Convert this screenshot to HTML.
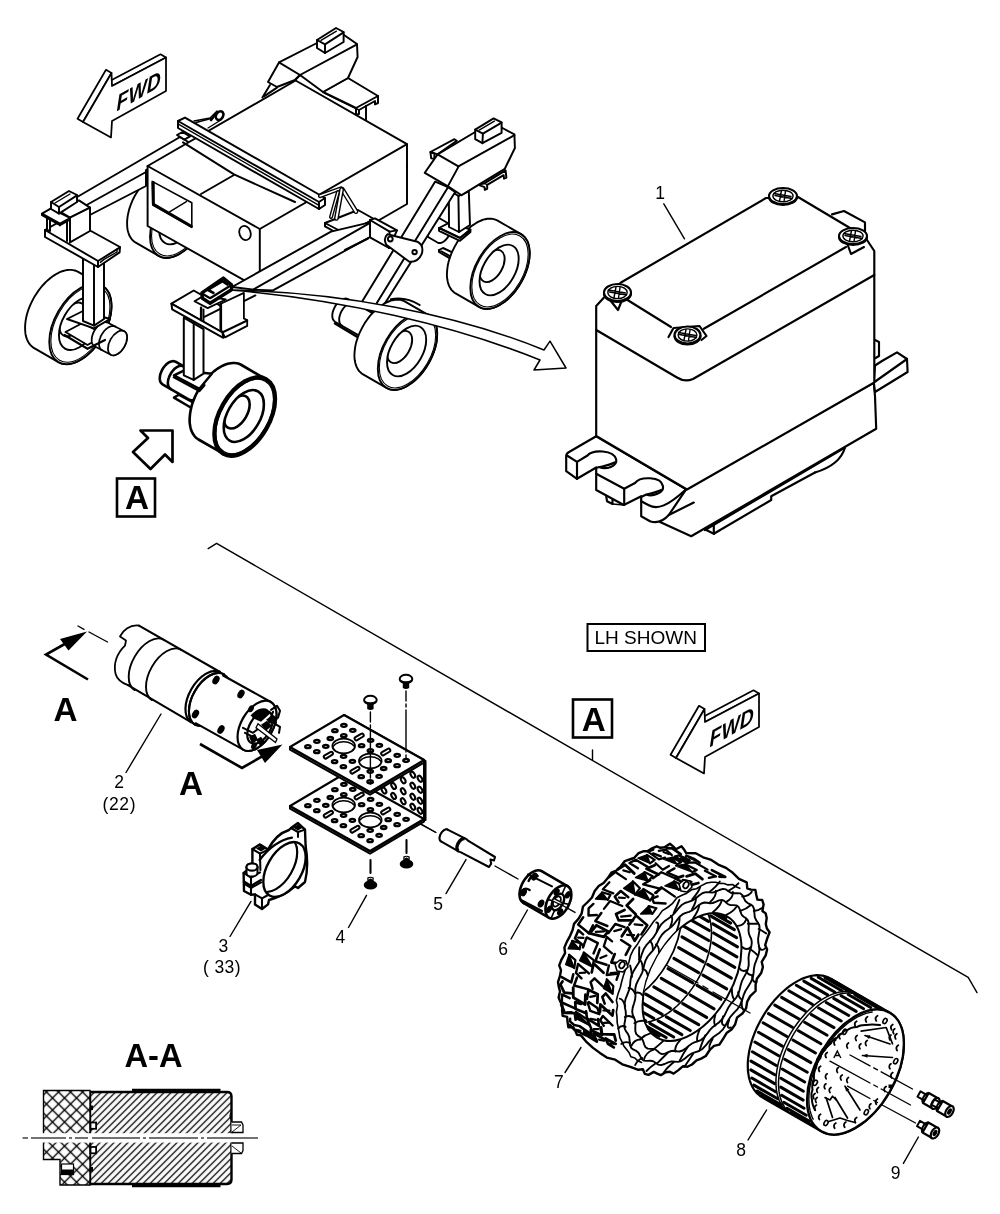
<!DOCTYPE html>
<html><head><meta charset="utf-8">
<style>
html,body{margin:0;padding:0;background:#fff;}
body{width:1000px;height:1214px;overflow:hidden;font-family:"Liberation Sans",sans-serif;}
svg{display:block;position:absolute;left:0;top:0;filter:grayscale(1);}
.l{fill:none;stroke:#000;stroke-width:1.75;stroke-linejoin:round;stroke-linecap:round;}
.w{fill:#fff;stroke:#000;stroke-width:1.75;stroke-linejoin:round;stroke-linecap:round;}
.t{fill:none;stroke:#000;stroke-width:1.4;stroke-linejoin:round;stroke-linecap:round;}
.h{fill:none;stroke:#000;stroke-width:2.2;stroke-linejoin:round;stroke-linecap:round;}
.hw{fill:#fff;stroke:#000;stroke-width:2.2;stroke-linejoin:round;stroke-linecap:round;}
.k{fill:#000;stroke:none;}
g.v .l,g.v .w{stroke-width:1.95;}
g.m .l,g.m .w{stroke-width:2.05;}
g.b .l,g.b .w{stroke-width:2.15;}
text{font-family:"Liberation Sans",sans-serif;fill:#000;}
</style></head><body>
<svg width="1000" height="1214" viewBox="0 0 1000 1214">
<rect x="0" y="0" width="1000" height="1214" fill="#fff"/>
<!-- SECTION: FWD1 -->
<g class="v">
<!-- SECTION: VEHICLE -->
<path class="l" d="M270.0,85.0 L262.4,97.6" />
<path class="l" d="M277.0,87.6 L264.0,96.4" />
<path class="w" d="M348.0,78.0 L378.0,96.0 L378.0,103.0 L375.0,104.4 L375.0,101.0 L359.0,110.0 L359.0,114.0 L356.0,115.0 L356.0,108.0 L323.0,92.0 Z" />
<path class="l" d="M356.0,108.0 L378.0,96.0" />
<path class="l" d="M356.0,114.0 L356.0,117.0" />
<path class="l" d="M366.0,105.6 L366.0,119.6" />
<path class="t" d="M359.0,110.0 L324.4,93.0" />
<path class="w" d="M279.0,62.4 L317.0,43.0 L344.0,35.0 L357.0,44.0 L357.6,57.0 L348.0,78.0 L323.0,92.0 L300.0,75.0 L295.0,80.0 L277.0,87.0 L268.0,82.0 Z" />
<path class="l" d="M279.0,62.4 L300.0,75.0 L357.0,44.4" />
<path class="l" d="M300.0,75.0 L295.0,80.0" />
<path class="w" d="M317.0,40.0 L336.0,28.0 L343.6,32.0 L343.6,42.0 L325.0,53.0 L317.0,48.0 Z" />
<path class="l" d="M317.0,40.0 L325.0,44.4 L343.6,32.4" />
<path class="l" d="M325.0,44.4 L325.0,53.0" />
<path class="t" d="M321.0,40.4 L336.4,31.2" />
<path class="w" d="M428.9,237.5 L428.4,237.1 L427.9,236.7 L427.5,236.1 L427.1,235.4 L426.9,234.7 L426.7,233.8 L426.6,233.0 L426.6,232.0 L426.7,231.0 L426.9,230.0 L427.1,229.0 L427.5,227.9 L427.9,226.9 L428.4,225.8 L428.9,224.8 L429.5,223.8 L430.2,222.9 L430.9,222.0 L431.6,221.2 L432.4,220.5 L433.2,219.8 L434.0,219.3 L434.8,218.8 L435.6,218.4 L436.4,218.2 L437.2,218.0 L437.9,218.0 L438.6,218.0 L439.3,218.2 L439.9,218.5 L448.5,223.5 L449.0,223.9 L449.5,224.3 L449.9,224.9 L450.3,225.6 L450.5,226.3 L450.7,227.2 L450.8,228.0 L450.8,229.0 L450.7,230.0 L450.5,231.0 L450.3,232.0 L449.9,233.1 L449.5,234.1 L449.0,235.2 L448.5,236.2 L447.9,237.2 L447.2,238.1 L446.5,239.0 L445.8,239.8 L445.0,240.5 L444.2,241.2 L443.4,241.7 L442.6,242.2 L441.8,242.6 L441.0,242.8 L440.2,243.0 L439.5,243.0 L438.8,243.0 L438.1,242.8 L437.5,242.5 Z" style="stroke-width:1.9"/>
<path class="w" d="M439.0,250.0 L443.0,248.0 L455.0,253.6 L450.4,256.4 Z" />
<path class="l" d="M439.0,250.0 L439.0,252.0 L450.0,258.4 L450.4,256.4" />
<path class="w" d="M455.6,293.4 L454.2,292.4 L452.9,291.3 L451.7,290.1 L450.6,288.6 L449.7,287.0 L448.9,285.3 L448.2,283.4 L447.7,281.4 L447.3,279.3 L447.0,277.1 L446.9,274.7 L447.0,272.3 L447.2,269.8 L447.5,267.3 L447.9,264.7 L448.5,262.1 L449.3,259.4 L450.2,256.7 L451.2,254.0 L452.3,251.4 L453.6,248.8 L454.9,246.2 L456.4,243.6 L457.9,241.1 L459.6,238.8 L461.3,236.4 L463.1,234.2 L465.0,232.1 L467.0,230.2 L468.9,228.3 L471.0,226.6 L473.0,225.1 L475.1,223.7 L477.1,222.4 L479.2,221.3 L481.3,220.5 L483.3,219.7 L485.3,219.2 L487.3,218.8 L489.2,218.7 L491.0,218.7 L492.8,218.9 L494.5,219.3 L496.1,219.9 L497.6,220.6 L521.0,234.1 L522.4,235.1 L523.7,236.2 L524.9,237.4 L526.0,238.9 L526.9,240.5 L527.7,242.2 L528.4,244.1 L528.9,246.1 L529.3,248.2 L529.6,250.4 L529.7,252.8 L529.6,255.2 L529.5,257.7 L529.1,260.2 L528.7,262.8 L528.1,265.4 L527.3,268.1 L526.4,270.8 L525.4,273.5 L524.3,276.1 L523.1,278.7 L521.7,281.3 L520.2,283.9 L518.7,286.4 L517.0,288.7 L515.3,291.1 L513.5,293.3 L511.6,295.4 L509.7,297.3 L507.7,299.2 L505.7,300.9 L503.6,302.4 L501.5,303.8 L499.5,305.1 L497.4,306.2 L495.3,307.0 L493.3,307.8 L491.3,308.3 L489.4,308.7 L487.4,308.8 L485.6,308.8 L483.8,308.6 L482.1,308.2 L480.5,307.6 L479.0,306.9 Z" style="stroke-width:1.9"/>
<ellipse class="w" cx="500.0" cy="270.5" rx="24.2" ry="42.0" transform="rotate(30 500.0 270.5)" style="stroke-width:1.9"/>
<ellipse class="l" cx="500.0" cy="270.5" rx="23.0" ry="39.8" transform="rotate(30 500.0 270.5)" style="stroke-width:1.1"/>
<ellipse class="w" cx="499.1" cy="270.0" rx="16.0" ry="27.7" transform="rotate(30 499.1 270.0)" style="stroke-width:1.9"/>
<clipPath id="wc500"><ellipse cx="499.1" cy="270.0" rx="16.0" ry="27.7" transform="rotate(30 499.1 270.0)"/></clipPath>
<g clip-path="url(#wc500)"><ellipse class="l" cx="492.2" cy="266.0" rx="10.2" ry="17.6" transform="rotate(30 492.2 266.0)" style="stroke-width:1.9"/></g>
<path class="w" d="M439.0,228.0 L450.0,222.4 L470.4,229.6 L460.0,238.0 Z" />
<path class="w" d="M439.0,228.0 L460.0,238.0 L470.4,229.6 L470.4,232.0 L460.0,240.8 L439.0,230.8 Z" />
<path class="w" d="M448.8,189.6 L458.4,196.0 L468.8,191.2 L470.0,225.0 L459.0,232.0 L449.0,227.0 Z" />
<path class="l" d="M458.4,196.0 L459.0,232.0" />
<path class="w" d="M478.4,184.8 L484.8,183.2 L505.6,170.4 L506.4,177.6 L504.0,178.7 L503.7,175.2 L487.2,184.8 L487.2,188.8 L484.8,189.9 L484.5,187.2 Z" />
<path class="t" d="M487.2,184.8 L484.8,183.5" />
<path class="w" d="M435.2,181.6 L448.0,187.2 L455.2,192.0 L376.0,317.6 L367.9,317.6 L353.0,316.5 Z" />
<path class="l" d="M448.0,187.2 L367.9,317.6" />
<path class="w" d="M430.4,152.0 L454.4,139.2 L456.8,140.8 L437.6,154.4 Z" />
<path class="w" d="M430.4,152.0 L431.2,158.4 L434.4,158.9 L434.4,153.6 Z" />
<path class="w" d="M437.6,154.4 L475.2,132.0 L502.4,128.0 L514.4,134.4 L514.9,148.0 L504.8,168.8 L461.6,195.2 L448.0,186.4 L424.8,172.8 Z" />
<path class="l" d="M437.6,154.4 L458.4,166.4 L514.4,135.2" />
<path class="l" d="M458.4,166.9 L447.5,186.9" />
<path class="w" d="M475.2,129.6 L493.6,118.4 L501.6,122.4 L501.6,132.8 L482.4,143.2 L475.2,139.2 Z" />
<path class="l" d="M475.2,129.6 L482.9,133.6 L501.6,122.7" />
<path class="l" d="M482.9,133.6 L482.4,143.2" />
<path class="t" d="M479.2,130.1 L494.4,121.1" />
<path class="w" d="M335.0,321.7 L334.4,321.2 L333.8,320.6 L333.3,319.9 L332.9,319.2 L332.6,318.3 L332.4,317.3 L332.3,316.3 L332.3,315.1 L332.4,314.0 L332.6,312.8 L332.9,311.6 L333.3,310.3 L333.8,309.1 L334.4,307.8 L335.0,306.6 L335.7,305.5 L336.5,304.4 L337.3,303.4 L338.2,302.4 L339.1,301.5 L340.1,300.7 L341.0,300.1 L342.0,299.5 L342.9,299.1 L343.9,298.8 L344.8,298.6 L345.7,298.5 L346.5,298.6 L347.3,298.8 L348.0,299.1 L372.5,313.2 L373.1,313.7 L373.7,314.3 L374.2,315.0 L374.6,315.7 L374.9,316.6 L375.1,317.6 L375.2,318.6 L375.2,319.8 L375.1,320.9 L374.9,322.1 L374.6,323.3 L374.2,324.6 L373.7,325.8 L373.1,327.1 L372.5,328.3 L371.8,329.4 L371.0,330.5 L370.2,331.5 L369.3,332.5 L368.4,333.4 L367.4,334.2 L366.5,334.8 L365.5,335.4 L364.6,335.8 L363.6,336.1 L362.7,336.3 L361.8,336.4 L361.0,336.3 L360.2,336.1 L359.5,335.8 Z" style="stroke-width:1.9"/>
<path class="l" d="M341.9,325.6 L341.4,325.3 L341.0,325.0 L340.7,324.6 L340.3,324.1 L340.0,323.6 L339.8,323.1 L339.6,322.5 L339.4,321.9 L339.3,321.3 L339.2,320.6 L339.2,319.8 L339.2,319.1 L339.2,318.3 L339.3,317.5 L339.5,316.7 L339.7,315.9 L339.9,315.1 L340.2,314.3 L340.5,313.4 L340.8,312.6 L341.2,311.8 L341.6,311.0 L342.1,310.2 L342.6,309.4 L343.1,308.7 L343.6,308.0 L344.2,307.3 L344.8,306.7 L345.4,306.0 L346.0,305.5 L346.6,304.9 L347.2,304.5 L347.9,304.0 L348.5,303.6 L349.2,303.3 L349.8,303.0 L350.4,302.8 L351.0,302.6 L351.7,302.5 L352.2,302.5 L352.8,302.5 L353.4,302.6 L353.9,302.7 L354.4,302.9 L354.9,303.1" style="stroke-width:1.9"/>
<path class="l" d="M335.0,323.5 L357.5,337.0" style="stroke-width:2.6"/>
<path class="w" d="M363.1,374.4 L361.7,373.4 L360.4,372.3 L359.2,371.1 L358.1,369.6 L357.2,368.0 L356.4,366.3 L355.7,364.4 L355.2,362.4 L354.8,360.3 L354.5,358.1 L354.4,355.7 L354.5,353.3 L354.7,350.8 L355.0,348.3 L355.4,345.7 L356.0,343.1 L356.8,340.4 L357.7,337.7 L358.7,335.0 L359.8,332.4 L361.1,329.8 L362.4,327.2 L363.9,324.6 L365.4,322.1 L367.1,319.8 L368.8,317.4 L370.6,315.2 L372.5,313.1 L374.5,311.2 L376.4,309.3 L378.5,307.6 L380.5,306.1 L382.6,304.7 L384.6,303.4 L386.7,302.3 L388.8,301.5 L390.8,300.7 L392.8,300.2 L394.8,299.8 L396.7,299.7 L398.5,299.7 L400.3,299.9 L402.0,300.3 L403.6,300.9 L405.1,301.6 L428.5,315.1 L429.9,316.1 L431.2,317.2 L432.4,318.4 L433.5,319.9 L434.4,321.5 L435.2,323.2 L435.9,325.1 L436.4,327.1 L436.8,329.2 L437.1,331.4 L437.2,333.8 L437.1,336.2 L437.0,338.7 L436.6,341.2 L436.2,343.8 L435.6,346.4 L434.8,349.1 L433.9,351.8 L432.9,354.5 L431.8,357.1 L430.6,359.7 L429.2,362.3 L427.7,364.9 L426.2,367.4 L424.5,369.7 L422.8,372.1 L421.0,374.3 L419.1,376.4 L417.2,378.3 L415.2,380.2 L413.2,381.9 L411.1,383.4 L409.0,384.8 L407.0,386.1 L404.9,387.2 L402.8,388.0 L400.8,388.8 L398.8,389.3 L396.9,389.7 L394.9,389.8 L393.1,389.8 L391.3,389.6 L389.6,389.2 L388.0,388.6 L386.5,387.9 Z" style="stroke-width:1.9"/>
<ellipse class="w" cx="407.5" cy="351.5" rx="24.2" ry="42.0" transform="rotate(30 407.5 351.5)" style="stroke-width:1.9"/>
<ellipse class="l" cx="407.5" cy="351.5" rx="23.0" ry="39.8" transform="rotate(30 407.5 351.5)" style="stroke-width:1.1"/>
<ellipse class="w" cx="406.6" cy="351.0" rx="16.0" ry="27.7" transform="rotate(30 406.6 351.0)" style="stroke-width:1.9"/>
<clipPath id="wc407"><ellipse cx="406.6" cy="351.0" rx="16.0" ry="27.7" transform="rotate(30 406.6 351.0)"/></clipPath>
<g clip-path="url(#wc407)"><ellipse class="l" cx="399.7" cy="347.0" rx="10.2" ry="17.6" transform="rotate(30 399.7 347.0)" style="stroke-width:1.9"/></g>
<path class="l" d="M390.9,299.2 Q405.9,296.3 419.7,305.0" />
<path class="w" d="M135.8,242.6 L134.3,241.7 L133.0,240.6 L131.8,239.3 L130.8,237.9 L129.8,236.3 L129.0,234.5 L128.4,232.7 L127.8,230.7 L127.4,228.6 L127.2,226.3 L127.1,224.0 L127.1,221.6 L127.3,219.1 L127.6,216.5 L128.1,213.9 L128.7,211.3 L129.4,208.6 L130.3,206.0 L131.3,203.3 L132.4,200.6 L133.7,198.0 L135.0,195.4 L136.5,192.9 L138.1,190.4 L139.7,188.0 L141.5,185.7 L143.3,183.5 L145.2,181.4 L147.1,179.4 L149.1,177.6 L151.1,175.9 L153.1,174.3 L155.2,172.9 L157.3,171.7 L159.3,170.6 L161.4,169.7 L163.4,169.0 L165.4,168.4 L167.4,168.1 L169.3,167.9 L171.2,167.9 L172.9,168.2 L174.6,168.5 L176.2,169.1 L177.8,169.9 L200.7,183.1 L202.1,184.1 L203.4,185.2 L204.6,186.4 L205.7,187.9 L206.6,189.5 L207.4,191.2 L208.1,193.1 L208.6,195.1 L209.0,197.2 L209.3,199.4 L209.4,201.8 L209.3,204.2 L209.2,206.7 L208.8,209.2 L208.4,211.8 L207.8,214.4 L207.0,217.1 L206.1,219.8 L205.1,222.5 L204.0,225.1 L202.8,227.7 L201.4,230.3 L199.9,232.9 L198.4,235.4 L196.7,237.7 L195.0,240.1 L193.2,242.3 L191.3,244.4 L189.4,246.3 L187.4,248.2 L185.4,249.9 L183.3,251.4 L181.2,252.8 L179.2,254.1 L177.1,255.2 L175.0,256.0 L173.0,256.8 L171.0,257.3 L169.1,257.7 L167.1,257.8 L165.3,257.8 L163.5,257.6 L161.8,257.2 L160.2,256.6 L158.7,255.9 Z" style="stroke-width:1.9"/>
<ellipse class="w" cx="179.7" cy="219.5" rx="24.2" ry="42.0" transform="rotate(30 179.7 219.5)" style="stroke-width:1.9"/>
<ellipse class="l" cx="179.7" cy="219.5" rx="23.0" ry="39.8" transform="rotate(30 179.7 219.5)" style="stroke-width:1.1"/>
<ellipse class="w" cx="178.8" cy="219.0" rx="16.0" ry="27.7" transform="rotate(30 178.8 219.0)" style="stroke-width:1.9"/>
<clipPath id="wc179"><ellipse cx="178.8" cy="219.0" rx="16.0" ry="27.7" transform="rotate(30 178.8 219.0)"/></clipPath>
<g clip-path="url(#wc179)"><ellipse class="l" cx="171.9" cy="215.0" rx="10.2" ry="17.6" transform="rotate(30 171.9 215.0)" style="stroke-width:1.9"/></g>
<path class="w" d="M72.0,200.0 L180.0,137.0 L190.0,143.0 L146.0,170.0 L146.0,186.0 L86.0,217.0 L83.0,207.0 Z" />
<path class="l" d="M83.0,207.0 L146.0,172.0" />
<path class="w" d="M147.6,166.0 L295.6,80.5 L407.0,144.2 L407.0,204.0 L259.8,289.0 L147.6,226.0 Z" />
<path class="l" d="M147.6,166.0 L259.8,229.0 L407.0,144.2" />
<path class="l" d="M259.8,229.0 L259.8,275.0" />
<path class="l" d="M183.0,142.4 L234.0,174.4 L295.0,202.0" />
<path class="l" d="M201.0,194.0 L234.0,175.0" />
<path class="w" d="M152.2,181.4 L191.8,202.8 L191.8,227.4 L152.8,205.0 Z" style="stroke-width:1.6"/>
<path class="l" d="M153.2,182.5 L153.4,204.2 L191.3,226.2" style="stroke-width:3"/>
<path class="l" d="M169.6,211.8 L186.4,201.6" style="stroke-width:1.5"/>
<ellipse class="w" cx="245.0" cy="233.0" rx="5.6" ry="7.2" transform="rotate(-20 245.0 233.0)" style="stroke-width:1.8"/>
<path class="w" d="M178.0,121.0 L185.0,117.6 L325.0,198.0 L325.0,205.0 L319.0,209.0 L178.0,128.0 Z" />
<path class="l" d="M178.0,121.0 L319.0,202.0 L325.0,198.0" />
<path class="l" d="M319.0,202.0 L319.0,209.0" />
<path class="t" d="M178.8,124.4 L319.0,205.4" />
<path class="w" d="M177.0,135.0 L182.4,132.0 L190.0,136.4 L184.4,139.6 Z" />
<path class="l" d="M194.0,121.0 L210.0,118.0 L217.0,111.0 L224.0,114.0 L221.0,120.0 L208.0,128.0" style="stroke-width:1.3"/>
<ellipse cx="219.6" cy="115.6" rx="3.4" ry="4.6" fill="#fff" stroke="#000" stroke-width="2.6" transform="rotate(30 219.6 115.6)"/>
<path class="l" d="M211.0,120.0 L216.0,113.6" style="stroke-width:2.6"/>
<path class="l" d="M196.0,122.4 L211.0,118.4" style="stroke-width:1.6"/>
<path class="w" d="M325.0,223.0 L358.0,210.0 L374.0,219.0 L346.0,234.0 L344.0,237.0 L325.0,226.4 Z" />
<path class="l" d="M325.0,223.0 L346.0,234.0 L374.0,219.0" />
<path d="M320.0,196.0 L341.0,188.4" stroke="#000" stroke-width="4.2" stroke-linecap="round" fill="none"/><path d="M320.0,196.0 L341.0,188.4" stroke="#fff" stroke-width="1.4" stroke-linecap="round" fill="none"/>
<path d="M342.4,189.6 L356.0,211.6" stroke="#000" stroke-width="4.8" stroke-linecap="round" fill="none"/><path d="M342.4,189.6 L356.0,211.6" stroke="#fff" stroke-width="2.0" stroke-linecap="round" fill="none"/>
<path d="M341.6,189.6 L336.4,218.4" stroke="#000" stroke-width="4.8" stroke-linecap="round" fill="none"/><path d="M341.6,189.6 L336.4,218.4" stroke="#fff" stroke-width="2.0" stroke-linecap="round" fill="none"/>
<path d="M338.0,192.0 L331.0,217.0" stroke="#000" stroke-width="4.0" stroke-linecap="round" fill="none"/><path d="M338.0,192.0 L331.0,217.0" stroke="#fff" stroke-width="1.2" stroke-linecap="round" fill="none"/>
<path class="w" d="M232.0,287.0 L331.0,231.6 L370.0,222.4 L370.0,237.0 L273.0,290.4 L254.0,289.6 Z" />
<path class="l" d="M254.0,289.2 L370.0,222.8" />
<path class="l" d="M345.0,250.0 L368.0,238.4" style="stroke-width:2.2"/>
<path class="w" d="M370.0,220.0 L375.0,218.4 L397.0,230.4 L389.0,248.0 L370.0,237.4 Z" />
<path class="l" d="M370.0,220.0 L389.6,231.6 L397.0,230.4" />
<path class="l" d="M389.6,231.6 L389.0,248.0" />
<path class="w" d="M387.5,234.2 L417.4,241.7 Q423.8,245.2 422.0,253.2 Q418.5,262.4 409.3,261.8 L386.3,244.7 Q382.9,238.3 387.5,234.2 Z" />
<circle class="l" cx="390.3" cy="239.0" r="2.4"/>
<circle class="l" cx="414.6" cy="252.1" r="2.2"/>
<path class="w" d="M34.2,348.1 L32.7,347.1 L31.3,346.0 L30.1,344.6 L28.9,343.1 L28.0,341.5 L27.1,339.6 L26.4,337.7 L25.8,335.6 L25.4,333.4 L25.2,331.0 L25.1,328.6 L25.1,326.1 L25.3,323.5 L25.6,320.8 L26.1,318.1 L26.7,315.3 L27.5,312.5 L28.4,309.7 L29.5,306.9 L30.7,304.1 L32.0,301.4 L33.4,298.6 L34.9,296.0 L36.6,293.4 L38.3,290.9 L40.1,288.5 L42.0,286.2 L44.0,284.0 L46.0,281.9 L48.1,280.0 L50.2,278.2 L52.4,276.5 L54.5,275.1 L56.7,273.8 L58.9,272.7 L61.0,271.7 L63.2,271.0 L65.3,270.4 L67.3,270.0 L69.3,269.9 L71.2,269.9 L73.1,270.1 L74.9,270.5 L76.6,271.1 L78.2,271.9 L102.4,285.9 L103.9,286.9 L105.2,288.0 L106.5,289.4 L107.6,290.9 L108.6,292.5 L109.4,294.4 L110.1,296.3 L110.7,298.4 L111.1,300.6 L111.4,303.0 L111.5,305.4 L111.5,307.9 L111.3,310.5 L110.9,313.2 L110.4,315.9 L109.8,318.7 L109.0,321.5 L108.1,324.3 L107.1,327.1 L105.9,329.9 L104.6,332.6 L103.1,335.4 L101.6,338.0 L100.0,340.6 L98.2,343.1 L96.4,345.5 L94.5,347.8 L92.5,350.0 L90.5,352.1 L88.4,354.0 L86.3,355.8 L84.2,357.5 L82.0,358.9 L79.8,360.2 L77.7,361.3 L75.5,362.3 L73.4,363.0 L71.3,363.6 L69.2,364.0 L67.2,364.1 L65.3,364.1 L63.5,363.9 L61.7,363.5 L60.0,362.9 L58.4,362.1 Z" style="stroke-width:1.9"/>
<ellipse class="w" cx="80.4" cy="324.0" rx="25.4" ry="44.0" transform="rotate(30 80.4 324.0)" style="stroke-width:1.9"/>
<ellipse class="l" cx="80.4" cy="324.0" rx="24.1" ry="41.8" transform="rotate(30 80.4 324.0)" style="stroke-width:1.1"/>
<ellipse class="w" cx="79.5" cy="323.5" rx="16.8" ry="29.0" transform="rotate(30 79.5 323.5)" style="stroke-width:1.9"/>
<clipPath id="wc80"><ellipse cx="79.5" cy="323.5" rx="16.8" ry="29.0" transform="rotate(30 79.5 323.5)"/></clipPath>
<g clip-path="url(#wc80)"><ellipse class="l" cx="72.6" cy="319.5" rx="10.7" ry="18.5" transform="rotate(30 72.6 319.5)" style="stroke-width:1.9"/></g>
<path class="w" d="M65.5,332.0 L87.5,345.0 L105.0,335.0 L82.5,323.0 Z" />
<path class="w" d="M94.5,346.2 L93.8,345.7 L93.2,345.1 L92.7,344.4 L92.3,343.6 L92.0,342.7 L91.8,341.7 L91.7,340.6 L91.7,339.4 L91.8,338.2 L92.0,337.0 L92.3,335.7 L92.7,334.4 L93.2,333.1 L93.8,331.8 L94.5,330.6 L95.2,329.4 L96.1,328.3 L96.9,327.2 L97.8,326.2 L98.8,325.3 L99.8,324.5 L100.8,323.8 L101.8,323.2 L102.7,322.8 L103.7,322.4 L104.7,322.2 L105.6,322.2 L106.4,322.3 L107.3,322.5 L108.0,322.8 L124.2,331.3 L124.9,331.8 L125.5,332.4 L126.0,333.1 L126.4,333.9 L126.7,334.8 L126.9,335.8 L127.0,336.9 L127.0,338.1 L126.9,339.3 L126.7,340.5 L126.4,341.8 L126.0,343.1 L125.5,344.4 L124.9,345.7 L124.2,346.9 L123.5,348.1 L122.7,349.2 L121.8,350.3 L120.9,351.3 L120.0,352.2 L119.0,353.0 L118.0,353.7 L117.0,354.3 L116.0,354.7 L115.0,355.1 L114.1,355.3 L113.2,355.3 L112.3,355.2 L111.5,355.0 L110.8,354.7 Z" style="stroke-width:1.75"/>
<ellipse class="w" cx="117.5" cy="343.0" rx="7.8" ry="13.5" transform="rotate(30 117.5 343.0)" style="stroke-width:1.75"/>
<path class="l" d="M101.8,350.0 L101.4,349.7 L100.9,349.4 L100.6,349.0 L100.2,348.5 L99.9,348.0 L99.7,347.4 L99.4,346.8 L99.3,346.2 L99.1,345.5 L99.1,344.8 L99.0,344.0 L99.0,343.3 L99.1,342.5 L99.2,341.6 L99.3,340.8 L99.5,339.9 L99.8,339.1 L100.1,338.2 L100.4,337.4 L100.7,336.5 L101.1,335.7 L101.6,334.8 L102.1,334.0 L102.6,333.2 L103.1,332.5 L103.7,331.7 L104.2,331.0 L104.8,330.3 L105.5,329.7 L106.1,329.1 L106.7,328.6 L107.4,328.1 L108.1,327.6 L108.7,327.2 L109.4,326.9 L110.1,326.6 L110.7,326.3 L111.4,326.2 L112.0,326.1 L112.6,326.0 L113.2,326.0 L113.8,326.1 L114.3,326.2 L114.8,326.4 L115.3,326.6" style="stroke-width:1.75"/>
<path class="l" d="M64.5,335.0 L87.5,348.8 L105.0,340.0" style="stroke-width:2.2"/>
<path class="w" d="M67.0,319.0 L83.0,311.0 L110.0,319.0 L94.0,328.4 Z" />
<path class="w" d="M83.0,259.0 L104.0,260.0 L104.0,319.0 L94.0,325.6 L83.0,321.0 Z" />
<path class="l" d="M94.0,263.0 L94.0,325.6" />
<path class="w" d="M45.0,230.0 L69.0,216.4 L91.0,231.0 L120.0,247.0 L119.6,252.4 L98.0,267.0 L45.0,237.0 Z" />
<path class="l" d="M45.0,230.0 L98.0,261.0 L120.0,247.4" />
<path class="l" d="M98.0,261.0 L98.0,267.0" />
<path class="t" d="M100.4,262.4 L104.0,259.4 L117.0,252.0 L117.0,249.0" />
<path class="w" d="M70.0,217.6 L59.0,211.0 L79.0,200.4 L90.0,207.6 Z" />
<path class="w" d="M70.0,217.6 L90.0,207.6 L90.0,231.0 L70.0,242.4 Z" />
<path class="l" d="M67.0,216.4 L67.0,241.0" />
<path class="w" d="M47.0,214.4 L50.0,213.0 L50.0,231.0 L47.0,230.0 Z" />
<path class="w" d="M42.0,213.6 L51.0,208.4 L70.0,218.0 L60.0,223.6 Z" />
<path class="l" d="M42.0,213.6 L42.0,215.2 L60.0,225.2 L60.0,223.6" />
<path class="l" d="M60.0,225.2 L68.4,220.4" />
<path class="w" d="M51.0,202.0 L69.0,191.0 L77.0,195.0 L77.0,202.0 L59.0,213.6 L51.0,209.0 Z" />
<path class="l" d="M51.0,202.0 L59.0,207.0 L77.0,195.4" />
<path class="l" d="M59.0,207.0 L59.0,213.6" />
<path class="t" d="M55.0,203.0 L70.0,194.0" />
<path class="w" d="M173.9,397.6 L178.8,394.8 L197.8,405.0 L192.0,408.3 Z" style="stroke-width:2.4"/>
<path class="w" d="M162.5,384.3 L161.9,383.8 L161.3,383.2 L160.8,382.5 L160.4,381.8 L160.1,380.9 L159.9,379.9 L159.8,378.9 L159.8,377.7 L159.9,376.6 L160.1,375.4 L160.4,374.2 L160.8,372.9 L161.3,371.7 L161.9,370.4 L162.5,369.2 L163.2,368.1 L164.0,367.0 L164.8,366.0 L165.7,365.0 L166.6,364.1 L167.6,363.3 L168.5,362.7 L169.5,362.1 L170.4,361.7 L171.4,361.4 L172.3,361.2 L173.2,361.1 L174.0,361.2 L174.8,361.4 L175.5,361.7 L202.5,377.2 L203.1,377.7 L203.7,378.3 L204.2,379.0 L204.6,379.7 L204.9,380.6 L205.1,381.6 L205.2,382.6 L205.2,383.8 L205.1,384.9 L204.9,386.1 L204.6,387.3 L204.2,388.6 L203.7,389.8 L203.1,391.1 L202.5,392.3 L201.8,393.4 L201.0,394.5 L200.2,395.5 L199.3,396.5 L198.4,397.4 L197.4,398.2 L196.5,398.8 L195.5,399.4 L194.6,399.8 L193.6,400.1 L192.7,400.3 L191.8,400.4 L191.0,400.3 L190.2,400.1 L189.5,399.8 Z" style="stroke-width:2.6"/>
<path class="l" d="M170.6,388.9 L170.2,388.6 L169.8,388.3 L169.4,387.9 L169.1,387.4 L168.8,386.9 L168.5,386.4 L168.3,385.8 L168.1,385.2 L168.0,384.6 L167.9,383.9 L167.9,383.1 L167.9,382.4 L168.0,381.6 L168.1,380.8 L168.2,380.0 L168.4,379.2 L168.6,378.4 L168.9,377.6 L169.2,376.7 L169.6,375.9 L170.0,375.1 L170.4,374.3 L170.8,373.5 L171.3,372.7 L171.8,372.0 L172.4,371.3 L172.9,370.6 L173.5,370.0 L174.1,369.3 L174.7,368.8 L175.3,368.2 L176.0,367.8 L176.6,367.3 L177.3,366.9 L177.9,366.6 L178.5,366.3 L179.2,366.1 L179.8,365.9 L180.4,365.8 L181.0,365.8 L181.6,365.8 L182.1,365.9 L182.6,366.0 L183.1,366.2 L183.6,366.4" style="stroke-width:2.6"/>
<path class="w" d="M198.5,439.5 L197.1,438.5 L195.7,437.4 L194.5,436.1 L193.4,434.6 L192.5,433.0 L191.6,431.2 L190.9,429.3 L190.4,427.3 L190.0,425.1 L189.7,422.8 L189.6,420.4 L189.7,417.9 L189.9,415.4 L190.2,412.8 L190.7,410.1 L191.3,407.4 L192.0,404.7 L192.9,402.0 L194.0,399.2 L195.1,396.5 L196.4,393.8 L197.8,391.2 L199.3,388.6 L200.9,386.0 L202.6,383.6 L204.4,381.2 L206.2,378.9 L208.2,376.8 L210.1,374.8 L212.2,372.9 L214.2,371.1 L216.3,369.5 L218.4,368.1 L220.6,366.8 L222.7,365.7 L224.8,364.8 L226.9,364.1 L228.9,363.5 L230.9,363.2 L232.9,363.0 L234.8,363.0 L236.6,363.2 L238.3,363.6 L240.0,364.2 L241.5,365.0 L266.2,379.3 L267.6,380.2 L269.0,381.4 L270.2,382.7 L271.3,384.1 L272.3,385.8 L273.1,387.5 L273.8,389.4 L274.3,391.5 L274.7,393.7 L275.0,395.9 L275.1,398.3 L275.1,400.8 L274.9,403.3 L274.5,406.0 L274.1,408.6 L273.4,411.3 L272.7,414.1 L271.8,416.8 L270.7,419.5 L269.6,422.3 L268.3,424.9 L266.9,427.6 L265.4,430.2 L263.8,432.7 L262.1,435.2 L260.3,437.5 L258.5,439.8 L256.6,442.0 L254.6,444.0 L252.6,445.9 L250.5,447.6 L248.4,449.2 L246.3,450.6 L244.2,451.9 L242.0,453.0 L239.9,453.9 L237.9,454.7 L235.8,455.2 L233.8,455.6 L231.8,455.7 L230.0,455.7 L228.1,455.5 L226.4,455.1 L224.8,454.5 L223.2,453.7 Z" style="stroke-width:2.6"/>
<ellipse class="w" cx="244.7" cy="416.5" rx="24.8" ry="43.0" transform="rotate(30 244.7 416.5)" style="stroke-width:4.2"/>
<ellipse class="l" cx="244.7" cy="416.5" rx="23.5" ry="40.8" transform="rotate(30 244.7 416.5)" style="stroke-width:1.1"/>
<ellipse class="w" cx="243.8" cy="416.0" rx="16.4" ry="28.4" transform="rotate(30 243.8 416.0)" style="stroke-width:2.6"/>
<clipPath id="wc244"><ellipse cx="243.8" cy="416.0" rx="16.4" ry="28.4" transform="rotate(30 243.8 416.0)"/></clipPath>
<g clip-path="url(#wc244)"><ellipse class="l" cx="236.9" cy="412.0" rx="10.4" ry="18.1" transform="rotate(30 236.9 412.0)" style="stroke-width:2.6"/></g>
<path class="w" d="M173.9,375.3 L183.8,370.7 L211.8,373.7 L199.4,388.8 Z" style="stroke-width:2.4"/>
<path class="l" d="M173.9,377.3 L199.4,391.0 L204.4,385.2" style="stroke-width:2.4"/>
<path class="w" d="M183.8,317.7 L203.5,329.2 L203.5,373.7 L193.7,379.9 L183.8,375.3 Z" style="stroke-width:2"/>
<path class="l" d="M193.7,322.6 L193.7,379.9" style="stroke-width:2"/>
<path class="w" d="M171.4,303.7 L193.7,290.5 L244.7,319.6 L222.5,332.5 Z" style="stroke-width:2"/>
<path class="w" d="M171.4,303.7 L222.5,332.5 L223.3,337.8 L172.2,309.4 Z" style="stroke-width:2"/>
<path class="w" d="M220.8,303.7 L243.9,292.9 L243.9,318.5 L247.2,320.1 L247.2,325.9 L225.0,337.4 L222.5,332.5 L220.8,329.2 Z" style="stroke-width:1.8"/>
<path class="l" d="M223.3,332.0 L247.2,320.5" />
<path class="l" d="M220.8,303.7 L220.8,329.2" style="stroke-width:2.6"/>
<path class="l" d="M243.9,301.2 L255.4,295.4" />
<path class="l" d="M201.1,307.8 L201.1,320.1" style="stroke-width:2.4"/>
<path class="l" d="M203.5,309.4 L203.5,321.3" />
<path class="l" d="M204.4,316.8 L220.8,308.6" />
<path class="w" d="M194.5,301.2 L204.4,295.4 L225.8,299.5 L207.7,308.1 Z" style="stroke-width:1.8"/>
<path class="w" d="M201.9,292.9 L223.3,278.1 L231.5,284.7 L231.5,289.7 L210.1,303.2 L202.4,298.2 Z" style="stroke-width:3.4"/>
<path class="l" d="M202.4,293.8 L210.1,298.2 L231.5,285.0" style="stroke-width:2.2"/>
<path class="l" d="M213.4,292.9 L207.7,289.7 L222.5,281.1 L227.4,284.4" style="stroke-width:2.8"/>
<path class="w" d="M230.0,290.0 C340.0,292.0 456.0,314.0 544.0,350.0 L550.0,341.2 L566.0,368.0 L534.0,370.0 L540.0,360.0 C456.0,326.0 340.0,298.8 230.0,290.0 Z" style="stroke-width:1.5"/>
<!-- END: VEHICLE -->
</g>
<g class="b">
<!-- SECTION: BOX1 -->
<path class="l" d="M705.0,530.0 L845.0,447.5"/>
<path class="l" d="M845.0,447.5 Q840.0,465.0 815.0,472.5"/>
<path class="l" d="M815.0,472.5 L771.2,496.2 L771.2,500.0 L713.8,533.8 L713.8,523.8"/>
<path class="l" d="M713.8,533.8 L703.8,528.8"/>
<path class="w" d="M686.2,489.2 L873.8,382.5 L875.0,396.2 L876.2,428.8 L691.2,536.2 L660.0,522.0 Z"/>
<path class="w" d="M875.0,365.5 L882.0,361.0 L897.0,352.4 L907.0,359.0 L907.6,372.0 L875.0,392.0 L873.8,382.5 Z"/>
<path class="l" d="M907.0,359.0 L873.8,382.5"/>
<path class="l" d="M875.0,340.0 L879.0,342.0 L879.0,356.0 L875.6,358.0"/>
<path class="w" d="M596.2,436.2 L569.5,451.8 Q565.8,453.5 566.2,457.0 L566.2,471.2 L577.0,478.8 L596.2,467.5 L596.2,490.0 L623.8,505.0 L641.2,496.2 L641.2,516.2 L650.0,521.2 C657.5,523.8 663.8,520.5 668.8,515.0 L686.2,489.2 Z"/>
<path class="l" d="M567.0,455.5 L577.0,461.8 L577.0,478.8"/>
<path class="l" d="M577.0,461.8 L587.5,455.5 C592.5,449.5 613.8,449.5 616.2,459.5 C617.5,466.2 606.2,470.0 599.2,467.0 L596.2,468.0"/>
<path class="l" d="M600.0,467.0 C606.2,465.5 611.2,464.5 614.5,462.5"/>
<path class="l" d="M596.2,473.8 L624.2,488.8 L624.2,505.0"/>
<path class="l" d="M624.2,488.8 L635.0,483.0 C640.0,476.2 661.2,476.2 663.0,486.2 C664.2,493.0 652.5,497.0 646.2,494.5 L641.2,497.0"/>
<path class="l" d="M647.0,494.5 C652.5,493.0 657.5,492.0 661.2,490.0"/>
<path class="l" d="M606.2,495.8 L607.0,501.2 L612.5,504.0 L612.5,500.0"/>
<path class="t" d="M612.5,504.0 L623.8,505.0"/>
<path class="l" d="M641.2,501.2 L648.8,505.2 C657.5,510.0 667.5,506.2 686.2,489.2"/>
<path class="l" d="M668.8,515.0 L693.8,502.5"/>
<path class="l" d="M832.0,214.4 L844.0,211.0 L865.0,222.4 L865.0,234.0"/>
<path class="w" d="M596.2,306.0 L604.0,297.5 L621.0,282.5 L766.0,198.0 L798.0,197.0 L850.0,228.0 L867.0,240.0 L874.3,251.0 L874.3,382.5 L687.0,489.5 L596.2,436.0 Z"/>
<path class="l" d="M596.25,330 L677,377.5 Q685,382.5 693,379 L874.3,275"/>
<path class="l" d="M627.5,300.0 L671.0,327.0"/>
<path class="l" d="M703.8,328.8 L846.0,247.0"/>
<path class="w" d="M610.0,300.0 L618.0,310.0 L622.0,300.0"/>
<path class="w" d="M847.0,243.0 L851.0,254.0 L864.0,247.0"/>
<ellipse class="w" cx="617.5" cy="292.5" rx="13.5" ry="8.5"/><path class="l" d="M604.0,293.5 A13.5,8.5 0 0 0 631.0,293.5"/><path class="t" d="M608.5,290.0 L625.5,293.0 M609.5,292.0 L626.5,295.0 M616.0,287.0 L614.0,297.5 M620.0,287.5 L618.5,298.0"/><ellipse class="t" cx="617.5" cy="292.5" rx="9.7" ry="6.1"/>
<ellipse class="w" cx="783.0" cy="196.0" rx="14.0" ry="8.0"/><path class="l" d="M769.0,197.0 A14.0,8.0 0 0 0 797.0,197.0"/><path class="t" d="M774.0,193.5 L791.0,196.5 M775.0,195.5 L792.0,198.5 M781.5,190.5 L779.5,201.0 M785.5,191.0 L784.0,201.5"/><ellipse class="t" cx="783.0" cy="196.0" rx="10.1" ry="5.8"/>
<ellipse class="w" cx="853.0" cy="236.0" rx="14.0" ry="8.0"/><path class="l" d="M839.0,237.0 A14.0,8.0 0 0 0 867.0,237.0"/><path class="t" d="M844.0,233.5 L861.0,236.5 M845.0,235.5 L862.0,238.5 M851.5,230.5 L849.5,241.0 M855.5,231.0 L854.0,241.5"/><ellipse class="t" cx="853.0" cy="236.0" rx="10.1" ry="5.8"/>
<path class="w" d="M668.5,337.0 L673.5,328.0 L699.5,326.0 L706.5,336.0 L701.5,340.0"/><ellipse class="w" cx="687.5" cy="335.0" rx="13.0" ry="8.5"/><path class="l" d="M674.5,336.0 A13.0,8.5 0 0 0 700.5,336.0"/><path class="t" d="M678.5,332.5 L695.5,335.5 M679.5,334.5 L696.5,337.5 M686.0,329.5 L684.0,340.0 M690.0,330.0 L688.5,340.5"/><ellipse class="t" cx="687.5" cy="335.0" rx="9.4" ry="6.1"/>
<!-- END: BOX1 -->
</g>
<g class="m">
<!-- SECTION: MID -->
<path d="M139.0,625.6 C130.0,624.4 123.0,630.0 120.0,636.4 L126.0,640.4 L125.0,645.6 C117.0,653.0 113.0,664.0 115.6,674.0 C117.0,679.0 122.0,683.0 128.0,685.2 L160.0,650.0 Z" fill="#fff"/>
<path fill="#fff" d="M139.0,625.6 L220.0,672.0 L191.0,722.2 L128.0,685.2 Z"/>
<path class="l" d="M139.0,625.6 L220.0,672.0" />
<path class="l" d="M128.0,685.2 L191.0,722.2" />
<path class="l" d="M139.0,625.6 C130.0,624.4 123.0,630.0 120.0,636.4 L126.0,640.4 L125.0,645.6 C117.0,653.0 113.0,664.0 115.6,674.0 C117.0,679.0 122.0,683.0 128.0,685.2" style="stroke-width:1.8"/>
<path class="l" d="M163.7,639.8 A16.7,29.0 30 0 0 134.7,690.1" style="stroke-width:1.9"/>
<path class="l" d="M181.0,649.8 A16.7,29.0 30 0 0 152.0,700.1" style="stroke-width:1.9"/>
<path class="l" d="M220.0,672.0 A16.7,29.0 30 0 0 191.0,722.2" style="stroke-width:2.2"/>
<ellipse class="w" cx="209.4" cy="699.4" rx="16.7" ry="29.0" transform="rotate(30 209.4 699.4)" style="stroke-width:2"/>
<ellipse class="w" cx="257.0" cy="725.8" rx="15.9" ry="27.5" transform="rotate(30 257.0 725.8)" />
<path fill="#fff" d="M223.1,675.5 L270.8,702.0 L243.2,749.6 L195.6,723.2 Z"/>
<path class="l" d="M223.1,675.5 L270.8,702.0" />
<path class="l" d="M195.6,723.2 L243.2,749.6" />
<path class="l" d="M223.9,674.2 A16.7,29.0 30 0 0 194.9,724.5" style="stroke-width:2.2"/>
<ellipse class="w" cx="257.0" cy="725.8" rx="15.9" ry="27.5" transform="rotate(30 257.0 725.8)" style="stroke-width:2.2"/>
<ellipse cx="216.0" cy="680.0" rx="3.2" ry="4.6" fill="#000" transform="rotate(30 216.0 680.0)"/>
<ellipse cx="195.5" cy="714.0" rx="3.2" ry="4.6" fill="#000" transform="rotate(30 195.5 714.0)"/>
<ellipse cx="241.0" cy="694.0" rx="3.2" ry="4.6" fill="#000" transform="rotate(30 241.0 694.0)"/>
<ellipse cx="221.0" cy="729.5" rx="3.2" ry="4.6" fill="#000" transform="rotate(30 221.0 729.5)"/>
<ellipse class="l" cx="260.0" cy="727.3" rx="10.4" ry="18.0" transform="rotate(30 260.0 727.3)" style="stroke-width:2.2"/>
<path d="M252.0,716.8 A10.4,18 30 0 1 267.0,711.3" fill="none" stroke="#000" stroke-width="4"/>
<path d="M252.0,717.8 l13,-8 l6,3 l-10,9 z" fill="#000"/>
<path d="M266.0,719.8 l7,-5 l5,4 l-5,6 z" fill="#000"/>
<path d="M261.0,724.8 l6,-4 l5,5 l-6,5 z" fill="#000"/>
<path d="M249.0,736.8 l6,-3 l3,6 l-6,4 z" fill="#000"/>
<path d="M256.0,739.8 l5,-3 l4,5 l-5,4 z" fill="#000"/>
<path class="l" d="M243.0,727.8 l10,5 l4,-3 M245.0,732.8 l8,4 M273.0,711.8 l-3,8 l6,3"/>
<ellipse cx="271.0" cy="719.8" rx="2.8" ry="3.8" fill="#000" transform="rotate(30 271.0 719.8)"/>
<ellipse cx="254.0" cy="745.8" rx="2.6" ry="3.6" fill="#000" transform="rotate(30 254.0 745.8)"/>
<ellipse cx="251.0" cy="708.8" rx="2.6" ry="3.6" fill="#000" transform="rotate(30 251.0 708.8)"/>
<path class="l" d="M271.0,709.8 l6,-4 l3,5 l-2,7 M275.0,723.8 l5,3 l-1,6"/>
<path d="M258.0,723.8 L277,739 L275.5,742.5 L256.0,727.8 Z" fill="#fff" stroke="#000" stroke-width="1.3"/>
<path class="w" d="M291.0,828.0 L298.0,823.0 L305.0,829.6 L305.6,846.0 Q309.0,866.0 305.0,882.0 L298.0,888.0 L295.0,886.4 Q284.0,896.0 269.0,900.0 L268.0,904.4 L262.0,909.0 L255.0,904.4 L255.0,894.4 L251.0,894.8 L244.0,891.0 L243.6,873.0 L247.0,870.4 L252.4,870.4 L252.4,849.0 L260.0,844.4 L268.0,849.6 Q276.0,834.0 289.0,830.0 Z" style="stroke-width:2.4"/>
<ellipse class="w" cx="284.5" cy="869.5" rx="17.3" ry="30" transform="rotate(30 284.5 869.5)" style="stroke-width:2.4"/>
<clipPath id="clampc"><ellipse cx="284.5" cy="869.5" rx="16.6" ry="29.3" transform="rotate(30 284.5 869.5)"/></clipPath>
<g clip-path="url(#clampc)"><ellipse cx="276.0" cy="864.6" rx="17.3" ry="30" transform="rotate(30 276.0 864.6)" fill="none" stroke="#000" stroke-width="2.2"/></g>
<path class="l" style="stroke-width:2.2" d="M259.6,860.0 Q274.0,841.0 292.0,837.6"/>
<path class="l" d="M291.0,828.0 L298.0,832.0 L305.0,829.6" />
<path class="l" d="M298.0,832.0 L298.0,837.0" />
<path class="l" d="M252.4,849.0 L260.0,853.6 L268.0,849.6" />
<path class="l" d="M260.0,853.6 L260.4,870.0" />
<path d="M256.0,848.4 l5,-3 l5,3 l-5,3 z" fill="#000"/>
<path d="M293.0,827.6 l5,-3 l5,3 l-5,3 z" fill="#000"/>
<path class="l" d="M243.6,873.0 L251.0,877.6 L260.0,872.4" />
<path class="l" d="M251.0,877.6 L251.0,894.8" />
<path class="l" d="M244.0,881.6 L251.0,886.0 L261.0,880.0" style="stroke-width:2.4"/>
<path class="l" d="M244.0,883.6 L251.0,888.0 L261.0,882.4" />
<ellipse class="w" cx="252.0" cy="867.0" rx="5.5" ry="3.6"/>
<path class="w" d="M246.5,867.4 l0,5.5 a5.5,3.6 0 0 0 11,0 l0,-5.5"/>
<ellipse class="w" cx="252.0" cy="867.0" rx="5.5" ry="3.6"/>
<path class="l" d="M255.0,894.4 L262.0,898.4 L262.0,909.0" />
<path class="l" d="M262.0,898.4 L268.0,895.0" />
<ellipse class="w" cx="444.4" cy="835.6" rx="3.8" ry="6.5" transform="rotate(30 444.4 835.6)"/>
<path class="w" d="M447.6,829.6 L466.4,839.2 L468.0,840.6 L495.0,857.0 L494.0,860.6 L490.4,859.6 L491.2,863.6 L489.0,867.0 L461.0,852.4 L459.0,851.6 L441.0,841.4" />
<path class="w" d="M447.6,829.6 A3.8,6.5 30 0 0 441.0,841.4"/>
<path d="M464.8,838.8 A3.6,6.2 30 0 0 458.8,851.2" fill="none" stroke="#000" stroke-width="3.4"/>
<ellipse class="w" cx="532.5" cy="887.0" rx="10.6" ry="18.3" transform="rotate(30 532.5 887.0)" style="stroke-width:2.6"/>
<path fill="#fff" d="M541.6,871.2 L567.5,886.2 L549.2,917.8 L523.4,902.8 Z"/>
<path class="l" d="M541.6,871.2 L567.5,886.2" style="stroke-width:2.6"/>
<path class="l" d="M523.4,902.8 L549.2,917.8" style="stroke-width:2.6"/>
<ellipse class="w" cx="558.4" cy="902.0" rx="10.6" ry="18.3" transform="rotate(30 558.4 902.0)" style="stroke-width:2.6"/>
<ellipse class="w" cx="557.9" cy="902.0" rx="5.2" ry="9.0" transform="rotate(30 557.9 902.0)" style="stroke-width:2.4"/>
<ellipse class="l" cx="556.9" cy="901.5" rx="3.2" ry="5.5" transform="rotate(30 556.9 901.5)" style="stroke-width:2"/>
<ellipse cx="567.8" cy="894.7" rx="2.6" ry="4" fill="#000" transform="rotate(30 567.8 894.7)"/>
<ellipse cx="560.1" cy="911.9" rx="2.6" ry="4" fill="#000" transform="rotate(30 560.1 911.9)"/>
<ellipse cx="549.0" cy="909.3" rx="2.6" ry="4" fill="#000" transform="rotate(30 549.0 909.3)"/>
<ellipse cx="556.7" cy="892.1" rx="2.6" ry="4" fill="#000" transform="rotate(30 556.7 892.1)"/>
<path class="l" d="M563.6,903.2 L569.0,904.4" style="stroke-width:1.6"/>
<path class="l" d="M554.7,910.1 L551.0,918.5" style="stroke-width:1.6"/>
<path class="l" d="M553.2,900.8 L547.8,899.6" style="stroke-width:1.6"/>
<path class="l" d="M562.1,893.9 L565.8,885.5" style="stroke-width:1.6"/>
<ellipse cx="523.6" cy="892.4" rx="3" ry="4.2" fill="#000" transform="rotate(30 523.6 892.4)"/>
<ellipse cx="541.0" cy="903.5" rx="3" ry="4.2" fill="#000" transform="rotate(30 541.0 903.5)"/>
<ellipse cx="534.4" cy="876.6" rx="3" ry="4.2" fill="#000" transform="rotate(30 534.4 876.6)"/>
<path class="l" style="stroke-width:2.4" d="M528.6,881.0 q3,-7 9,-5 M519.6,894.0 q4,-8 10,-4"/>
<path class="l" style="stroke-width:2" d="M528.0,874.4 L552.0,886.4 M521.0,900.0 L542.0,911.0"/>
<path d="M553.6,898.4 L562.4,902.8 L561.2,905.2 L552.4,900.8 Z" fill="#fff" stroke="#000" stroke-width="1.3"/>
<path class="t" d="M420.0,824.0 L435.0,832.0 M495.0,866.0 L518.0,879.0 M560.0,904.0 L575.0,912.4"/>
<path class="t" d="M409.0,817.0 L436.0,832.5"/>
<!-- END: MID -->
</g>
<g class="m">
<!-- SECTION: PARTS -->
<path class="w" d="M344.0,715.0 L424.0,760.0 L425.5,761.0 L425.5,820.0 L424.0,820.0 L344.0,775.0 Z" />
<path class="l" d="M424.0,760.0 L424.0,820.0" />
<ellipse cx="384.0" cy="790.5" rx="1.9" ry="3.3" fill="#fff" stroke="#000" stroke-width="2.1" transform="rotate(-30 384.0 790.5)"/>
<ellipse cx="393.6" cy="785.9" rx="1.9" ry="3.3" fill="#fff" stroke="#000" stroke-width="2.1" transform="rotate(-30 393.6 785.9)"/>
<ellipse cx="393.6" cy="795.9" rx="1.9" ry="3.3" fill="#fff" stroke="#000" stroke-width="2.1" transform="rotate(-30 393.6 795.9)"/>
<ellipse cx="403.2" cy="780.3" rx="1.9" ry="3.3" fill="#fff" stroke="#000" stroke-width="2.1" transform="rotate(-30 403.2 780.3)"/>
<ellipse cx="403.2" cy="791.3" rx="1.9" ry="3.3" fill="#fff" stroke="#000" stroke-width="2.1" transform="rotate(-30 403.2 791.3)"/>
<ellipse cx="403.2" cy="801.3" rx="1.9" ry="3.3" fill="#fff" stroke="#000" stroke-width="2.1" transform="rotate(-30 403.2 801.3)"/>
<ellipse cx="412.8" cy="774.7" rx="1.9" ry="3.3" fill="#fff" stroke="#000" stroke-width="2.1" transform="rotate(-30 412.8 774.7)"/>
<ellipse cx="412.8" cy="785.7" rx="1.9" ry="3.3" fill="#fff" stroke="#000" stroke-width="2.1" transform="rotate(-30 412.8 785.7)"/>
<ellipse cx="412.8" cy="796.7" rx="1.9" ry="3.3" fill="#fff" stroke="#000" stroke-width="2.1" transform="rotate(-30 412.8 796.7)"/>
<ellipse cx="412.8" cy="806.7" rx="1.9" ry="3.3" fill="#fff" stroke="#000" stroke-width="2.1" transform="rotate(-30 412.8 806.7)"/>
<ellipse cx="420.0" cy="778.8" rx="1.9" ry="3.3" fill="#fff" stroke="#000" stroke-width="2.1" transform="rotate(-30 420.0 778.8)"/>
<ellipse cx="420.0" cy="789.8" rx="1.9" ry="3.3" fill="#fff" stroke="#000" stroke-width="2.1" transform="rotate(-30 420.0 789.8)"/>
<ellipse cx="420.0" cy="800.8" rx="1.9" ry="3.3" fill="#fff" stroke="#000" stroke-width="2.1" transform="rotate(-30 420.0 800.8)"/>
<ellipse cx="420.0" cy="810.8" rx="1.9" ry="3.3" fill="#fff" stroke="#000" stroke-width="2.1" transform="rotate(-30 420.0 810.8)"/>
<path class="w" d="M290.0,806.0 L370.0,851.0 L424.0,819.0 L424.0,821.6 L370.0,853.6 L290.0,808.6 Z" />
<path class="w" d="M290.0,806.0 L344.0,774.0 L424.0,819.0 L370.0,851.0 Z" />
<ellipse cx="325.8" cy="805.3" rx="2.7" ry="1.5" fill="#fff" stroke="#000" stroke-width="2.3"/>
<ellipse cx="316.9" cy="800.3" rx="2.7" ry="1.5" fill="#fff" stroke="#000" stroke-width="2.3"/>
<ellipse cx="316.8" cy="810.7" rx="2.7" ry="1.5" fill="#fff" stroke="#000" stroke-width="2.3"/>
<ellipse cx="307.9" cy="805.7" rx="2.7" ry="1.5" fill="#fff" stroke="#000" stroke-width="2.3"/>
<ellipse cx="352.4" cy="820.3" rx="2.7" ry="1.5" fill="#fff" stroke="#000" stroke-width="2.3"/>
<ellipse cx="343.6" cy="815.3" rx="2.7" ry="1.5" fill="#fff" stroke="#000" stroke-width="2.3"/>
<ellipse cx="343.4" cy="825.7" rx="2.7" ry="1.5" fill="#fff" stroke="#000" stroke-width="2.3"/>
<ellipse cx="334.6" cy="820.7" rx="2.7" ry="1.5" fill="#fff" stroke="#000" stroke-width="2.3"/>
<ellipse cx="379.1" cy="835.3" rx="2.7" ry="1.5" fill="#fff" stroke="#000" stroke-width="2.3"/>
<ellipse cx="370.2" cy="830.3" rx="2.7" ry="1.5" fill="#fff" stroke="#000" stroke-width="2.3"/>
<ellipse cx="370.1" cy="840.7" rx="2.7" ry="1.5" fill="#fff" stroke="#000" stroke-width="2.3"/>
<ellipse cx="361.2" cy="835.7" rx="2.7" ry="1.5" fill="#fff" stroke="#000" stroke-width="2.3"/>
<ellipse cx="352.8" cy="789.3" rx="2.7" ry="1.5" fill="#fff" stroke="#000" stroke-width="2.3"/>
<ellipse cx="343.9" cy="784.3" rx="2.7" ry="1.5" fill="#fff" stroke="#000" stroke-width="2.3"/>
<ellipse cx="343.8" cy="794.7" rx="2.7" ry="1.5" fill="#fff" stroke="#000" stroke-width="2.3"/>
<ellipse cx="334.9" cy="789.7" rx="2.7" ry="1.5" fill="#fff" stroke="#000" stroke-width="2.3"/>
<ellipse cx="379.4" cy="804.3" rx="2.7" ry="1.5" fill="#fff" stroke="#000" stroke-width="2.3"/>
<ellipse cx="370.6" cy="799.3" rx="2.7" ry="1.5" fill="#fff" stroke="#000" stroke-width="2.3"/>
<ellipse cx="370.4" cy="809.7" rx="2.7" ry="1.5" fill="#fff" stroke="#000" stroke-width="2.3"/>
<ellipse cx="361.6" cy="804.7" rx="2.7" ry="1.5" fill="#fff" stroke="#000" stroke-width="2.3"/>
<ellipse cx="406.1" cy="819.3" rx="2.7" ry="1.5" fill="#fff" stroke="#000" stroke-width="2.3"/>
<ellipse cx="397.2" cy="814.3" rx="2.7" ry="1.5" fill="#fff" stroke="#000" stroke-width="2.3"/>
<ellipse cx="397.1" cy="824.7" rx="2.7" ry="1.5" fill="#fff" stroke="#000" stroke-width="2.3"/>
<ellipse cx="388.2" cy="819.7" rx="2.7" ry="1.5" fill="#fff" stroke="#000" stroke-width="2.3"/>
<ellipse cx="330.3" cy="797.5" rx="2.7" ry="1.5" fill="#fff" stroke="#000" stroke-width="2.3"/>
<ellipse cx="383.7" cy="827.5" rx="2.7" ry="1.5" fill="#fff" stroke="#000" stroke-width="2.3"/>
<rect x="323.3" y="812.5" width="10" height="3.4" rx="1.7" ry="1.7" fill="#fff" stroke="#000" stroke-width="2" transform="rotate(-30.7 328.3 814.1)"/>
<rect x="354.1" y="794.3" width="10" height="3.4" rx="1.7" ry="1.7" fill="#fff" stroke="#000" stroke-width="2" transform="rotate(-30.7 359.1 795.9)"/>
<rect x="349.9" y="827.5" width="10" height="3.4" rx="1.7" ry="1.7" fill="#fff" stroke="#000" stroke-width="2" transform="rotate(-30.7 354.9 829.1)"/>
<rect x="380.7" y="809.3" width="10" height="3.4" rx="1.7" ry="1.7" fill="#fff" stroke="#000" stroke-width="2" transform="rotate(-30.7 385.7 810.9)"/>
<ellipse cx="343.7" cy="805.0" rx="11.3" ry="7.3" fill="#fff" stroke="#000" stroke-width="1.8"/>
<clipPath id="bh343_805"><ellipse cx="343.7" cy="805.0" rx="11.3" ry="7.3"/></clipPath>
<ellipse cx="343.7" cy="808.0" rx="11.3" ry="7.3" fill="none" stroke="#000" stroke-width="1.5" clip-path="url(#bh343_805)"/>
<ellipse cx="370.3" cy="820.0" rx="11.3" ry="7.3" fill="#fff" stroke="#000" stroke-width="1.8"/>
<clipPath id="bh370_820"><ellipse cx="370.3" cy="820.0" rx="11.3" ry="7.3"/></clipPath>
<ellipse cx="370.3" cy="823.0" rx="11.3" ry="7.3" fill="none" stroke="#000" stroke-width="1.5" clip-path="url(#bh370_820)"/>
<path class="w" d="M290.0,747.0 L370.0,792.0 L424.0,760.0 L424.0,762.6 L370.0,794.6 L290.0,749.6 Z" />
<path class="w" d="M290.0,747.0 L344.0,715.0 L424.0,760.0 L370.0,792.0 Z" />
<ellipse cx="325.8" cy="746.3" rx="2.7" ry="1.5" fill="#fff" stroke="#000" stroke-width="2.3"/>
<ellipse cx="316.9" cy="741.3" rx="2.7" ry="1.5" fill="#fff" stroke="#000" stroke-width="2.3"/>
<ellipse cx="316.8" cy="751.7" rx="2.7" ry="1.5" fill="#fff" stroke="#000" stroke-width="2.3"/>
<ellipse cx="307.9" cy="746.7" rx="2.7" ry="1.5" fill="#fff" stroke="#000" stroke-width="2.3"/>
<ellipse cx="352.4" cy="761.3" rx="2.7" ry="1.5" fill="#fff" stroke="#000" stroke-width="2.3"/>
<ellipse cx="343.6" cy="756.3" rx="2.7" ry="1.5" fill="#fff" stroke="#000" stroke-width="2.3"/>
<ellipse cx="343.4" cy="766.7" rx="2.7" ry="1.5" fill="#fff" stroke="#000" stroke-width="2.3"/>
<ellipse cx="334.6" cy="761.7" rx="2.7" ry="1.5" fill="#fff" stroke="#000" stroke-width="2.3"/>
<ellipse cx="379.1" cy="776.3" rx="2.7" ry="1.5" fill="#fff" stroke="#000" stroke-width="2.3"/>
<ellipse cx="370.2" cy="771.3" rx="2.7" ry="1.5" fill="#fff" stroke="#000" stroke-width="2.3"/>
<ellipse cx="370.1" cy="781.7" rx="2.7" ry="1.5" fill="#fff" stroke="#000" stroke-width="2.3"/>
<ellipse cx="361.2" cy="776.7" rx="2.7" ry="1.5" fill="#fff" stroke="#000" stroke-width="2.3"/>
<ellipse cx="352.8" cy="730.3" rx="2.7" ry="1.5" fill="#fff" stroke="#000" stroke-width="2.3"/>
<ellipse cx="343.9" cy="725.3" rx="2.7" ry="1.5" fill="#fff" stroke="#000" stroke-width="2.3"/>
<ellipse cx="343.8" cy="735.7" rx="2.7" ry="1.5" fill="#fff" stroke="#000" stroke-width="2.3"/>
<ellipse cx="334.9" cy="730.7" rx="2.7" ry="1.5" fill="#fff" stroke="#000" stroke-width="2.3"/>
<ellipse cx="379.4" cy="745.3" rx="2.7" ry="1.5" fill="#fff" stroke="#000" stroke-width="2.3"/>
<ellipse cx="370.6" cy="740.3" rx="2.7" ry="1.5" fill="#fff" stroke="#000" stroke-width="2.3"/>
<ellipse cx="370.4" cy="750.7" rx="2.7" ry="1.5" fill="#fff" stroke="#000" stroke-width="2.3"/>
<ellipse cx="361.6" cy="745.7" rx="2.7" ry="1.5" fill="#fff" stroke="#000" stroke-width="2.3"/>
<ellipse cx="406.1" cy="760.3" rx="2.7" ry="1.5" fill="#fff" stroke="#000" stroke-width="2.3"/>
<ellipse cx="397.2" cy="755.3" rx="2.7" ry="1.5" fill="#fff" stroke="#000" stroke-width="2.3"/>
<ellipse cx="397.1" cy="765.7" rx="2.7" ry="1.5" fill="#fff" stroke="#000" stroke-width="2.3"/>
<ellipse cx="388.2" cy="760.7" rx="2.7" ry="1.5" fill="#fff" stroke="#000" stroke-width="2.3"/>
<ellipse cx="330.3" cy="738.5" rx="2.7" ry="1.5" fill="#fff" stroke="#000" stroke-width="2.3"/>
<ellipse cx="383.7" cy="768.5" rx="2.7" ry="1.5" fill="#fff" stroke="#000" stroke-width="2.3"/>
<rect x="323.3" y="753.5" width="10" height="3.4" rx="1.7" ry="1.7" fill="#fff" stroke="#000" stroke-width="2" transform="rotate(-30.7 328.3 755.1)"/>
<rect x="354.1" y="735.3" width="10" height="3.4" rx="1.7" ry="1.7" fill="#fff" stroke="#000" stroke-width="2" transform="rotate(-30.7 359.1 736.9)"/>
<rect x="349.9" y="768.5" width="10" height="3.4" rx="1.7" ry="1.7" fill="#fff" stroke="#000" stroke-width="2" transform="rotate(-30.7 354.9 770.1)"/>
<rect x="380.7" y="750.3" width="10" height="3.4" rx="1.7" ry="1.7" fill="#fff" stroke="#000" stroke-width="2" transform="rotate(-30.7 385.7 751.9)"/>
<ellipse cx="343.7" cy="746.0" rx="11.3" ry="7.3" fill="#fff" stroke="#000" stroke-width="1.8"/>
<clipPath id="bh343_746"><ellipse cx="343.7" cy="746.0" rx="11.3" ry="7.3"/></clipPath>
<ellipse cx="343.7" cy="749.0" rx="11.3" ry="7.3" fill="none" stroke="#000" stroke-width="1.5" clip-path="url(#bh343_746)"/>
<ellipse cx="370.3" cy="761.0" rx="11.3" ry="7.3" fill="#fff" stroke="#000" stroke-width="1.8"/>
<clipPath id="bh370_761"><ellipse cx="370.3" cy="761.0" rx="11.3" ry="7.3"/></clipPath>
<ellipse cx="370.3" cy="764.0" rx="11.3" ry="7.3" fill="none" stroke="#000" stroke-width="1.5" clip-path="url(#bh370_761)"/>
<path d="M367.2,703.0 l0,6 q3.2,2.2 6.4,0 l0,-6 z" fill="#000"/><ellipse cx="370.4" cy="700.0" rx="6.3" ry="4.3" fill="#fff" stroke="#000" stroke-width="2"/><path d="M364.4,701.5 q6,3.5 12,0" fill="none" stroke="#000" stroke-width="1.8"/>
<path d="M402.8,682.0 l0,6 q3.2,2.2 6.4,0 l0,-6 z" fill="#000"/><ellipse cx="406.0" cy="679.0" rx="6.3" ry="4.3" fill="#fff" stroke="#000" stroke-width="2"/><path d="M400.0,680.5 q6,3.5 12,0" fill="none" stroke="#000" stroke-width="1.8"/>
<path d="M367.3,884.0 l0,-6.5 q3.2,-1.5 6.4,0 l0,6.5 z" fill="#000"/><ellipse cx="370.5" cy="885.0" rx="6.8" ry="4.6" fill="#000"/><path d="M368.3,879.0 q2.2,-1.6 4.4,0" fill="none" stroke="#fff" stroke-width="0.9"/>
<path d="M403.3,863.0 l0,-6.5 q3.2,-1.5 6.4,0 l0,6.5 z" fill="#000"/><ellipse cx="406.5" cy="864.0" rx="6.8" ry="4.6" fill="#000"/><path d="M404.3,858.0 q2.2,-1.6 4.4,0" fill="none" stroke="#fff" stroke-width="0.9"/>
<path class="t" d="M370.4,712 V722 M370.4,725 V728 M370.4,731 V778 M370.4,781 V784" />
<path class="t" d="M406,691 V701 M406,704 V707 M406,710 V752 M406,755 V758" />
<path d="M367,782 q3.4,3.4 6.8,0" fill="none" stroke="#000" stroke-width="1.5"/>
<path d="M402.5,760.5 q3.4,3.4 6.8,0" fill="none" stroke="#000" stroke-width="1.5"/>
<path class="l" d="M370.5,860 V873 M406.5,840 V853"/>
<!-- END: PARTS -->
</g>
<!-- SECTION: TIRE -->
<path class="w" d="M580.9,1035.4 L577.0,1034.7 L575.2,1030.6 L573.2,1027.1 L568.3,1027.2 L567.6,1022.1 L567.1,1016.9 L562.7,1015.9 L562.1,1010.9 L562.3,1005.3 L560.3,1001.6 L558.6,997.6 L560.0,991.4 L558.8,986.9 L558.0,982.1 L560.0,975.9 L561.0,970.2 L559.2,965.4 L561.6,959.3 L565.1,953.1 L564.4,947.5 L566.9,941.6 L570.1,935.8 L572.6,930.0 L574.0,923.9 L578.5,918.8 L581.7,913.3 L583.0,906.5 L587.7,902.0 L592.0,897.5 L594.7,891.0 L598.7,886.1 L603.6,883.0 L607.6,878.3 L611.4,872.7 L616.3,870.6 L620.6,866.5 L624.8,861.1 L629.5,859.5 L634.0,858.0 L638.6,853.2 L643.2,851.3 L647.4,851.3 L652.1,848.3 L656.7,846.3 L660.4,847.8 L664.6,847.3 L669.9,843.8 L673.1,846.4 L675.9,849.3 L681.5,846.2 L684.0,849.4 L686.2,853.1 L695.8,853.3 L703.1,857.3 L711.3,859.9 L718.2,864.6 L726.0,867.9 L732.8,872.8 L739.0,878.8 L746.7,882.3 L747.3,888.4 L750.9,889.6 L755.4,889.9 L756.3,895.0 L757.4,899.6 L762.2,900.0 L763.6,904.3 L762.4,911.0 L765.7,913.4 L766.7,918.1 L765.8,924.0 L766.9,928.5 L769.6,932.2 L767.1,938.8 L765.2,945.0 L767.1,949.5 L765.7,955.4 L761.7,961.8 L762.9,967.1 L761.2,973.0 L756.9,978.8 L755.6,984.7 L755.6,991.0 L750.2,996.1 L747.2,1001.6 L746.1,1008.2 L742.4,1013.6 L737.1,1017.4 L735.2,1024.3 L731.5,1029.6 L726.6,1033.1 L723.1,1038.8 L719.4,1044.7 L714.0,1045.9 L709.7,1050.0 L705.8,1056.0 L701.1,1058.6 L696.5,1060.3 L692.0,1064.5 L687.4,1066.8 L683.1,1066.2 L678.4,1070.1 L673.6,1073.6 L669.9,1071.7 L665.7,1072.3 L660.8,1075.1 L657.2,1073.6 L653.8,1071.9 L648.5,1074.9 L644.8,1073.9 L642.9,1069.3 L638.4,1069.8 L630.4,1066.9 L622.3,1064.3 L615.2,1059.7 L606.8,1057.6 L599.9,1052.9 L593.0,1047.9 L586.7,1042.2 Z" style="stroke-width:2.4"/>
<path class="l" d="M641.5,1062.5 L637.8,1060.8 L634.9,1058.0 L630.9,1056.8 L629.0,1052.5 L626.4,1049.2 L623.8,1045.9 L621.9,1041.7 L619.9,1037.8 L619.1,1032.6 L618.2,1027.6 L617.2,1022.6 L617.0,1017.1 L616.4,1011.8 L617.5,1005.6 L616.4,1000.3 L618.0,993.9 L620.3,987.5 L621.8,981.2 L623.6,974.9 L625.8,968.6 L628.9,962.3 L630.5,955.7 L633.5,949.4 L637.8,943.7 L641.4,937.7 L645.8,932.5 L649.8,927.0 L653.8,921.3 L658.3,916.4 L662.4,910.6 L667.5,907.5 L672.3,903.7 L676.9,897.8 L681.9,895.3 L686.8,893.2 L691.8,889.6 L696.5,888.7 L701.5,885.6 L706.6,883.0 L711.3,882.3 L715.7,882.3 L719.8,883.4 L724.1,883.5 L728.0,884.9 L732.6,884.5 L736.0,886.8 L739.8,888.3" style="stroke-width:1.6"/>
<path class="l" d="M585.4,1035.2 L573.9,1029.4 L569.8,1024.8" style="stroke-width:2.4"/>
<path class="l" d="M576.4,1029.8 L580.5,1030.7" style="stroke-width:2.2"/>
<path class="l" d="M570.2,1018.8 L570.0,1021.3 L574.1,1025.0 L579.6,1026.1" style="stroke-width:2.4"/>
<path class="l" d="M561.3,1004.6 L564.6,1012.9 L574.9,1013.1 L575.7,1019.5" style="stroke-width:2.9"/>
<path class="l" d="M567.0,1012.3 L571.6,1012.1" style="stroke-width:2.2"/>
<path class="l" d="M574.5,1008.2 L561.8,1002.5 L562.0,994.5 L569.7,998.2" style="stroke-width:2.5"/>
<path class="l" d="M562.5,981.5 L560.4,984.5 L564.3,992.7 L571.9,993.4" style="stroke-width:2.8"/>
<path class="l" d="M561.7,977.1 L571.3,982.3 L573.3,974.2" style="stroke-width:2.6"/>
<path d="M565.7,964.5 L569.1,954.6 L574.3,968.2 Z" fill="#000" stroke="#000" stroke-width="1.4" stroke-linejoin="round"/>
<path class="l" d="M574.3,968.2 L575.4,960.1 L569.1,954.6" style="stroke-width:2.2"/>
<path d="M568.1,948.8 L572.1,940.9 L579.6,949.3 Z" fill="#000" stroke="#000" stroke-width="1.4" stroke-linejoin="round"/>
<path class="l" d="M579.6,949.3 L580.7,943.3 L572.1,940.9" style="stroke-width:2.2"/>
<path class="l" d="M583.5,945.7 L574.9,938.4 L578.4,930.2 L583.1,934.4" style="stroke-width:2.5"/>
<path class="l" d="M578.1,937.6 L583.5,937.9" style="stroke-width:2.2"/>
<path class="l" d="M583.2,917.3 L578.1,924.6 L589.0,933.3 L593.0,925.4" style="stroke-width:2.5"/>
<path class="l" d="M593.4,903.9 L588.6,908.3 L588.5,915.5 L596.8,915.0" style="stroke-width:2.4"/>
<path d="M595.5,899.1 L602.0,892.3 L607.7,899.9 Z" fill="#000" stroke="#000" stroke-width="1.4" stroke-linejoin="round"/>
<path class="l" d="M607.7,899.9 L610.5,894.8 L602.0,892.3" style="stroke-width:2.2"/>
<path class="l" d="M609.4,882.3 L602.9,889.3 L613.3,893.4" style="stroke-width:2.3"/>
<path class="l" d="M625.9,879.1 L615.3,872.0 L608.8,877.3" style="stroke-width:2.3"/>
<path class="l" d="M617.9,869.3 L625.1,864.7 L634.2,873.4" style="stroke-width:2.9"/>
<path class="l" d="M623.3,870.4 L629.8,872.3" style="stroke-width:2.2"/>
<path class="l" d="M647.6,866.9 L635.8,859.8 L629.5,863.0 L637.9,868.3" style="stroke-width:2.4"/>
<path d="M637.9,858.2 L647.0,854.8 L650.0,863.4 Z" fill="#000" stroke="#000" stroke-width="1.4" stroke-linejoin="round"/>
<path class="l" d="M650.0,863.4 L654.7,859.9 L647.0,854.8" style="stroke-width:2.2"/>
<path class="l" d="M653.4,849.7 L647.9,851.7 L658.8,859.4 L665.1,857.6" style="stroke-width:2.2"/>
<path class="l" d="M653.1,853.4 L660.9,856.4" style="stroke-width:2.2"/>
<path class="l" d="M671.9,855.1 L665.8,849.6 L658.8,850.9" style="stroke-width:2.2"/>
<path class="l" d="M663.5,852.0 L668.8,854.0" style="stroke-width:2.2"/>
<path class="l" d="M680.7,854.2 L672.2,848.4 L666.7,848.2" style="stroke-width:2.7"/>
<path class="l" d="M584.3,1033.9 L584.3,1030.9 L596.0,1039.0 L596.9,1041.6 L585.4,1034.6" style="stroke-width:2.7"/>
<path class="l" d="M587.9,1035.4 L592.6,1037.3" style="stroke-width:2.2"/>
<path class="l" d="M580.2,1026.7 L591.7,1034.5 L590.7,1030.1" style="stroke-width:2.6"/>
<path d="M576.6,1018.8 L576.0,1012.0 L589.8,1025.7 Z" fill="#000" stroke="#000" stroke-width="1.4" stroke-linejoin="round"/>
<path class="l" d="M589.8,1025.7 L587.0,1019.3 L576.0,1012.0" style="stroke-width:2.2"/>
<path class="l" d="M586.2,1013.3 L575.7,1009.1 L575.2,1002.1 L580.9,1003.9" style="stroke-width:2.7"/>
<path class="l" d="M573.2,987.8 L573.3,997.5 L585.1,1004.4 L585.5,994.7" style="stroke-width:2.9"/>
<path class="l" d="M577.0,977.5 L574.1,985.5 L587.4,989.1" style="stroke-width:2.5"/>
<path class="l" d="M588.9,973.4 L578.0,963.9 L576.0,972.9 L581.5,978.3" style="stroke-width:2.4"/>
<path class="l" d="M579.7,973.0 L585.2,972.6" style="stroke-width:2.2"/>
<path d="M579.6,960.6 L583.7,952.4 L592.9,967.5 Z" fill="#000" stroke="#000" stroke-width="1.4" stroke-linejoin="round"/>
<path class="l" d="M592.9,967.5 L593.7,960.1 L583.7,952.4" style="stroke-width:2.2"/>
<path class="l" d="M582.9,947.5 L586.7,937.4 L597.9,943.1 L593.5,953.5" style="stroke-width:2.4"/>
<path class="l" d="M590.4,932.7 L596.4,925.3 L608.1,931.4 L604.0,936.8 L588.8,933.2" style="stroke-width:2.8"/>
<path class="l" d="M595.8,931.9 L604.0,931.3" style="stroke-width:2.2"/>
<path class="l" d="M601.3,913.0 L595.4,921.1 L607.3,926.0" style="stroke-width:2.6"/>
<path class="l" d="M622.3,906.1 L610.1,901.0 L603.9,908.9" style="stroke-width:2.2"/>
<path class="l" d="M628.3,897.3 L620.8,891.0 L614.8,896.7 L618.6,902.3" style="stroke-width:2.5"/>
<path class="l" d="M618.9,897.6 L624.9,898.0" style="stroke-width:2.2"/>
<path d="M623.6,888.3 L632.8,881.2 L635.0,894.7 Z" fill="#000" stroke="#000" stroke-width="1.4" stroke-linejoin="round"/>
<path class="l" d="M635.0,894.7 L640.0,888.2 L632.8,881.2" style="stroke-width:2.2"/>
<path d="M635.4,877.6 L644.5,872.1 L648.1,881.0 Z" fill="#000" stroke="#000" stroke-width="1.4" stroke-linejoin="round"/>
<path class="l" d="M648.1,881.0 L652.7,876.3 L644.5,872.1" style="stroke-width:2.2"/>
<path class="l" d="M658.5,874.5 L646.5,868.8 L654.7,865.2" style="stroke-width:2.8"/>
<path class="l" d="M655.6,863.2 L662.7,869.7 L669.0,866.0" style="stroke-width:2.2"/>
<path d="M663.6,859.0 L672.3,857.5 L677.1,864.3 Z" fill="#000" stroke="#000" stroke-width="1.4" stroke-linejoin="round"/>
<path class="l" d="M677.1,864.3 L681.2,862.3 L672.3,857.5" style="stroke-width:2.2"/>
<path class="l" d="M687.6,863.1 L674.5,856.6 L679.0,855.4 L689.7,860.4" style="stroke-width:2.3"/>
<path class="l" d="M680.7,858.3 L689.1,861.4" style="stroke-width:2.2"/>
<path class="l" d="M685.7,857.2 L686.3,855.6 L693.6,858.5 L699.7,862.8" style="stroke-width:2.4"/>
<path class="l" d="M688.9,857.6 L696.8,860.9" style="stroke-width:2.2"/>
<path class="l" d="M605.1,1039.7 L593.6,1033.3 L595.6,1039.2" style="stroke-width:2.6"/>
<path class="l" d="M599.0,1039.6 L603.9,1040.8" style="stroke-width:2.2"/>
<path class="l" d="M588.3,1021.6 L592.1,1030.7 L602.0,1035.2 L600.4,1027.9" style="stroke-width:2.5"/>
<path class="l" d="M593.8,1029.1 L598.3,1029.1" style="stroke-width:2.2"/>
<path class="l" d="M586.1,1011.4 L587.0,1018.3 L598.9,1025.8 L598.1,1019.1" style="stroke-width:2.6"/>
<path class="l" d="M590.7,1018.8 L595.9,1019.9" style="stroke-width:2.2"/>
<path class="l" d="M587.7,1002.8 L590.3,1010.8 L599.5,1014.2 L597.4,1008.0 L588.7,1002.0" style="stroke-width:2.4"/>
<path class="l" d="M586.9,998.8 L588.5,989.7 L597.7,994.3 L597.3,1002.9" style="stroke-width:2.8"/>
<path class="l" d="M590.2,996.8 L595.2,995.8" style="stroke-width:2.2"/>
<path class="l" d="M592.6,988.8 L590.6,982.1 L594.5,978.4 L602.9,986.4" style="stroke-width:2.5"/>
<path class="l" d="M603.6,972.8 L593.6,963.4 L591.7,972.5" style="stroke-width:2.7"/>
<path class="l" d="M599.8,949.4 L595.4,961.2 L606.5,964.8" style="stroke-width:2.6"/>
<path class="l" d="M600.4,958.0 L606.5,955.6" style="stroke-width:2.2"/>
<path class="l" d="M612.0,953.3 L603.8,946.3 L606.8,937.0 L612.1,941.4" style="stroke-width:2.3"/>
<path class="l" d="M608.5,933.1 L615.3,924.0 L624.6,927.2" style="stroke-width:2.4"/>
<path class="l" d="M614.3,931.1 L621.1,929.2" style="stroke-width:2.2"/>
<path class="l" d="M624.6,910.0 L616.0,913.9 L618.6,920.3 L632.9,920.4" style="stroke-width:2.7"/>
<path class="l" d="M621.1,916.7 L630.7,915.7" style="stroke-width:2.2"/>
<path class="l" d="M633.1,899.0 L626.7,905.4 L635.7,914.2" style="stroke-width:2.8"/>
<path d="M635.2,894.8 L643.3,889.0 L650.0,900.6 Z" fill="#000" stroke="#000" stroke-width="1.4" stroke-linejoin="round"/>
<path class="l" d="M650.0,900.6 L653.5,895.3 L643.3,889.0" style="stroke-width:2.2"/>
<path class="l" d="M650.3,880.2 L643.2,884.3 L660.8,888.8 L655.2,892.8" style="stroke-width:2.4"/>
<path class="l" d="M674.8,878.3 L661.4,872.2 L653.0,878.3" style="stroke-width:2.3"/>
<path class="l" d="M678.6,877.4 L667.2,872.5 L674.5,868.4" style="stroke-width:2.4"/>
<path d="M675.5,865.8 L685.3,864.2 L692.4,872.1 Z" fill="#000" stroke="#000" stroke-width="1.4" stroke-linejoin="round"/>
<path class="l" d="M692.4,872.1 L696.8,870.0 L685.3,864.2" style="stroke-width:2.2"/>
<path class="l" d="M686.5,862.8 L694.7,862.3 L707.6,869.6" style="stroke-width:2.2"/>
<path class="l" d="M615.7,1043.9 L605.6,1038.4 L607.9,1043.8 L613.8,1047.4" style="stroke-width:2.8"/>
<path class="l" d="M610.0,1043.6 L613.7,1043.6" style="stroke-width:2.2"/>
<path class="l" d="M601.1,1027.5 L602.0,1034.1 L614.2,1034.5 L615.7,1040.6" style="stroke-width:2.8"/>
<path class="l" d="M603.8,1025.8 L600.2,1020.0 L602.9,1016.0 L612.5,1025.5" style="stroke-width:2.4"/>
<path class="l" d="M604.0,1022.8 L609.3,1022.7" style="stroke-width:2.2"/>
<path class="l" d="M600.0,1011.8 L600.4,1004.4 L612.4,1015.6 L613.2,1010.1" style="stroke-width:2.8"/>
<path class="l" d="M603.4,1010.5 L609.4,1010.7" style="stroke-width:2.2"/>
<path class="l" d="M604.7,1003.6 L602.3,996.9 L605.8,993.5 L612.5,1002.0" style="stroke-width:2.6"/>
<path d="M603.5,988.3 L606.7,979.2 L612.6,993.9 Z" fill="#000" stroke="#000" stroke-width="1.4" stroke-linejoin="round"/>
<path class="l" d="M612.6,993.9 L613.3,986.1 L606.7,979.2" style="stroke-width:2.2"/>
<path class="l" d="M608.9,965.4 L606.7,975.0 L618.7,973.5 L616.5,979.8" style="stroke-width:2.4"/>
<path class="l" d="M610.6,973.1 L616.0,972.6" style="stroke-width:2.2"/>
<path class="l" d="M614.7,954.1 L611.4,962.5 L621.9,963.8 L618.5,972.1" style="stroke-width:2.8"/>
<path class="l" d="M621.1,940.0 L630.4,946.0 L625.7,954.9" style="stroke-width:2.6"/>
<path class="l" d="M621.8,936.3 L627.6,927.4 L634.7,940.9 L638.4,934.7" style="stroke-width:2.8"/>
<path class="l" d="M627.1,934.9 L634.1,935.2" style="stroke-width:2.2"/>
<path class="l" d="M629.3,924.7 L636.0,915.6 L647.3,925.2 L641.4,934.4" style="stroke-width:2.6"/>
<path class="l" d="M634.6,924.3 L642.4,925.2" style="stroke-width:2.2"/>
<path d="M640.6,914.0 L648.7,906.1 L652.3,913.9 Z" fill="#000" stroke="#000" stroke-width="1.4" stroke-linejoin="round"/>
<path class="l" d="M652.3,913.9 L656.4,908.2 L648.7,906.1" style="stroke-width:2.2"/>
<path class="l" d="M657.6,896.4 L652.0,898.6 L653.9,902.8 L665.5,903.5" style="stroke-width:2.5"/>
<path class="l" d="M674.9,896.6 L661.2,887.2 L656.3,893.0" style="stroke-width:2.3"/>
<path d="M664.9,885.9 L674.1,881.2 L678.8,889.9 Z" fill="#000" stroke="#000" stroke-width="1.4" stroke-linejoin="round"/>
<path class="l" d="M678.8,889.9 L683.3,885.8 L674.1,881.2" style="stroke-width:2.2"/>
<path class="l" d="M683.2,875.9 L675.4,878.6 L689.3,885.4 L698.4,883.0" style="stroke-width:2.7"/>
<path class="l" d="M682.7,879.8 L691.5,881.8" style="stroke-width:2.2"/>
<path class="l" d="M702.4,879.2 L695.3,873.6 L686.6,876.4" style="stroke-width:2.8"/>
<path class="l" d="M704.9,870.7 L716.1,876.4 L708.8,877.8" style="stroke-width:2.3"/>
<path class="l" d="M711.8,870.1 L725.3,877.0 L719.3,876.6" style="stroke-width:2.6"/>
<path class="l" d="M733.5,905.1 L736.3,905.4 L738.4,906.8 L739.8,909.4 L740.7,912.4 L741.8,915.0 L743.7,916.7 L745.9,918.1 L747.8,920.1 L748.7,923.0 L748.7,926.7 L748.5,930.5 L748.9,933.7 L750.0,936.5 L751.3,939.2 L751.8,942.5 L751.3,946.4 L750.0,950.5 L748.9,954.5 L748.5,958.2 L748.7,961.8 L748.7,965.5 L747.8,969.5 L745.9,973.6 L743.7,977.6 L741.8,981.4 L740.6,985.4 L739.7,989.5 L738.4,993.6 L736.3,997.5 L733.5,1000.9 L730.6,1004.2 L728.2,1007.8 L726.3,1011.7 L724.3,1015.8 L721.9,1019.5 L718.9,1022.5 L715.7,1024.8 L712.6,1027.2 L709.8,1030.1 L707.2,1033.7 L704.4,1037.2 L701.3,1039.8 L698.2,1041.2 L695.0,1042.1 L692.0,1043.5 L688.9,1045.7 L685.8,1048.4 L682.6,1050.5 L679.6,1051.5 L676.8,1051.2 L674.1,1050.7 L671.3,1051.0 L668.3,1052.2 L665.0,1053.6 L662.1,1054.1 L659.7,1053.1 L657.7,1051.3 L655.7,1049.6 L653.3,1048.9 L650.5,1048.9 L647.7,1048.6 L645.6,1047.2 L644.2,1044.6 L643.3,1041.6 L642.2,1039.0 L640.3,1037.3 L638.1,1035.9 L636.2,1033.9 L635.3,1031.0 L635.3,1027.3 L635.5,1023.5 L635.1,1020.3 L634.0,1017.5 L632.7,1014.8 L632.2,1011.5 L632.7,1007.6 L634.0,1003.5 L635.1,999.5 L635.5,995.8 L635.3,992.2 L635.3,988.5 L636.2,984.5 L638.1,980.4 L640.3,976.4 L642.2,972.6 L643.4,968.6 L644.3,964.5 L645.6,960.4 L647.7,956.5 L650.5,953.1 L653.4,949.8 L655.8,946.2 L657.7,942.3 L659.7,938.2 L662.1,934.5 L665.1,931.5 L668.3,929.2 L671.4,926.8 L674.2,923.9 L676.8,920.3 L679.6,916.8 L682.7,914.2 L685.8,912.8 L689.0,911.9 L692.0,910.5 L695.1,908.3 L698.2,905.6 L701.4,903.5 L704.4,902.5 L707.2,902.8 L709.9,903.3 L712.7,903.0 L715.7,901.8 L719.0,900.4 L721.9,899.9 L724.3,900.9 L726.3,902.7 L728.3,904.4 L730.7,905.1 L733.5,905.1" style="stroke-width:1.9"/>
<path class="l" d="M740.3,893.4 L742.5,895.3 L744.0,898.4 L745.5,901.3 L747.7,903.1 L750.4,904.3 L752.8,906.1 L754.1,909.2 L754.4,913.3 L754.8,917.1 L756.1,920.1 L758.0,922.7 L759.4,925.7 L759.6,929.8 L758.8,934.4 L758.1,938.8 L758.3,942.7 L759.1,946.4 L759.4,950.4 L758.5,954.9 L756.6,959.7 L754.8,964.3 L753.9,968.7 L753.6,973.1 L752.8,977.7 L750.8,982.2 L748.1,986.7 L745.4,991.0 L743.5,995.4 L742.1,1000.2 L740.2,1004.9 L737.5,1009.1 L734.1,1012.7 L730.8,1016.3 L728.1,1020.4 L725.7,1025.0 L723.0,1029.3 L719.6,1032.7 L715.9,1035.3 L712.4,1037.8 L709.2,1041.1 L706.0,1045.1 L702.7,1048.7 L699.1,1051.0 L695.5,1052.1 L692.0,1053.3 L688.5,1055.5 L684.9,1058.5 L681.3,1061.0 L677.8,1061.9 L674.7,1061.6 L671.6,1061.4 L668.2,1062.3 L664.6,1064.0 L661.0,1065.1 L658.0,1064.6 L655.6,1062.8 L653.2,1061.2 L650.2,1060.7 L646.9,1060.9 L643.7,1060.6 L641.5,1058.7 L640.0,1055.6 L638.5,1052.7 L636.3,1050.9 L633.6,1049.7 L631.2,1047.9 L629.9,1044.8 L629.6,1040.7 L629.2,1036.9 L627.9,1033.9 L626.0,1031.3 L624.6,1028.3 L624.4,1024.2 L625.2,1019.6 L625.9,1015.2 L625.7,1011.3 L624.9,1007.6 L624.6,1003.6 L625.5,999.1 L627.4,994.3 L629.2,989.7 L630.1,985.3 L630.4,980.9 L631.2,976.3 L633.2,971.8 L635.9,967.3 L638.6,963.0 L640.5,958.6 L641.9,953.8 L643.8,949.1 L646.5,944.9 L649.9,941.3 L653.2,937.7 L655.9,933.6 L658.3,929.0 L661.0,924.7 L664.4,921.3 L668.1,918.7 L671.6,916.2 L674.8,912.9 L678.0,908.9 L681.3,905.3 L684.9,903.0 L688.5,901.9 L692.0,900.7 L695.5,898.5 L699.1,895.5 L702.7,893.0 L706.2,892.1 L709.3,892.4 L712.4,892.6 L715.8,891.7 L719.4,890.0 L723.0,888.9 L726.0,889.4 L728.4,891.2 L730.8,892.8 L733.8,893.3 L737.1,893.1 L740.3,893.4" style="stroke-width:1.9"/>
<path class="l" style="stroke-width:1.9" d="M726.2,914.8 Q732.9,911.9 736.3,907.0"/>
<path class="l" style="stroke-width:1.9" d="M737.3,925.9 Q743.3,926.3 746.2,919.7"/>
<path class="l" style="stroke-width:1.9" d="M742.2,947.0 Q746.2,951.1 750.6,947.2"/>
<path class="l" style="stroke-width:1.9" d="M739.5,968.3 Q742.1,972.5 746.6,970.2"/>
<path class="l" style="stroke-width:1.9" d="M731.9,989.0 Q731.8,996.8 734.2,999.6"/>
<path class="l" style="stroke-width:1.9" d="M715.3,1014.9 Q713.0,1022.8 715.4,1025.6"/>
<path class="l" style="stroke-width:1.9" d="M699.6,1029.9 Q696.2,1037.2 697.3,1041.4"/>
<path class="l" style="stroke-width:1.9" d="M680.3,1040.1 Q673.9,1046.7 675.5,1051.6"/>
<path class="l" style="stroke-width:1.9" d="M663.1,1041.1 Q658.0,1045.7 652.8,1050.1"/>
<path class="l" style="stroke-width:1.9" d="M650.3,1033.4 Q644.4,1035.0 640.4,1039.0"/>
<path class="l" style="stroke-width:1.9" d="M643.8,1020.9 Q638.7,1020.3 634.4,1023.3"/>
<path class="l" style="stroke-width:1.9" d="M642.6,995.3 Q639.4,991.3 635.2,993.0"/>
<path class="l" style="stroke-width:1.9" d="M647.7,975.3 Q646.4,969.0 642.5,969.3"/>
<path class="l" style="stroke-width:1.9" d="M659.0,952.4 Q659.1,945.9 655.9,944.5"/>
<path class="l" style="stroke-width:1.9" d="M676.8,930.6 Q679.6,922.9 679.6,917.9"/>
<path class="l" style="stroke-width:1.9" d="M693.1,918.4 Q698.4,910.9 699.2,905.6"/>
<path class="l" style="stroke-width:1.9" d="M712.8,912.2 Q719.6,906.9 721.5,901.4"/>
<path class="l" style="stroke-width:1.9" d="M740.5,910.9 Q746.4,909.1 750.6,905.3"/>
<path class="l" style="stroke-width:1.9" d="M747.8,923.7 Q752.9,923.7 757.8,923.7"/>
<path class="l" style="stroke-width:1.9" d="M750.4,949.3 Q754.2,951.9 757.7,955.3"/>
<path class="l" style="stroke-width:1.9" d="M746.3,971.3 Q748.7,975.8 752.7,975.0"/>
<path class="l" style="stroke-width:1.9" d="M738.1,992.2 Q738.7,998.7 742.2,999.6"/>
<path class="l" style="stroke-width:1.9" d="M723.2,1016.3 Q720.0,1025.9 725.2,1025.3"/>
<path class="l" style="stroke-width:1.9" d="M705.3,1035.3 Q701.6,1043.3 699.8,1049.5"/>
<path class="l" style="stroke-width:1.9" d="M687.7,1047.0 Q682.7,1054.2 679.8,1060.3"/>
<path class="l" style="stroke-width:1.9" d="M667.8,1052.7 Q662.2,1058.2 657.1,1063.4"/>
<path class="l" style="stroke-width:1.9" d="M652.6,1050.0 Q645.7,1053.0 644.2,1059.1"/>
<path class="l" style="stroke-width:1.9" d="M640.7,1039.5 Q634.3,1039.3 631.5,1045.7"/>
<path class="l" style="stroke-width:1.9" d="M633.6,1017.7 Q629.1,1014.6 624.9,1017.1"/>
<path class="l" style="stroke-width:1.9" d="M635.1,993.6 Q632.5,987.9 628.6,988.0"/>
<path class="l" style="stroke-width:1.9" d="M642.8,968.4 Q642.3,961.2 639.3,959.4"/>
<path class="l" style="stroke-width:1.9" d="M652.8,949.2 Q652.8,942.8 649.8,941.1"/>
<path class="l" style="stroke-width:1.9" d="M670.3,926.6 Q674.0,917.8 670.8,915.7"/>
<path class="l" style="stroke-width:1.9" d="M692.0,909.2 Q696.6,901.9 695.8,897.4"/>
<path class="l" style="stroke-width:1.9" d="M710.0,902.1 Q717.0,895.9 715.7,890.8"/>
<path class="l" style="stroke-width:1.9" d="M726.0,902.1 Q733.3,898.3 732.9,891.9"/>
<path class="l" style="stroke-width:1.9" d="M742.2,896.5 Q749.2,896.0 751.8,891.7"/>
<path class="l" style="stroke-width:1.9" d="M753.8,911.0 Q758.4,910.7 762.0,908.1"/>
<path class="l" style="stroke-width:1.9" d="M758.7,929.0 Q762.5,931.0 766.2,933.4"/>
<path class="l" style="stroke-width:1.9" d="M758.8,946.3 Q761.4,952.5 765.3,948.0"/>
<path class="l" style="stroke-width:1.9" d="M752.1,976.8 Q752.9,983.2 756.6,981.8"/>
<path class="l" style="stroke-width:1.9" d="M741.8,1000.3 Q741.3,1007.0 743.1,1009.6"/>
<path class="l" style="stroke-width:1.9" d="M729.2,1020.0 Q725.5,1029.5 730.9,1027.5"/>
<path class="l" style="stroke-width:1.9" d="M712.7,1038.8 Q707.6,1047.6 710.2,1049.5"/>
<path class="l" style="stroke-width:1.9" d="M693.2,1053.8 Q688.9,1060.3 684.4,1066.7"/>
<path class="l" style="stroke-width:1.9" d="M673.9,1062.1 Q666.9,1067.8 663.8,1072.6"/>
<path class="l" style="stroke-width:1.9" d="M655.8,1063.2 Q650.1,1067.0 646.5,1071.0"/>
<path class="l" style="stroke-width:1.9" d="M642.4,1058.0 Q637.2,1060.2 635.2,1065.0"/>
<path class="l" style="stroke-width:1.9" d="M630.1,1042.9 Q624.7,1040.9 621.3,1043.9"/>
<path class="l" style="stroke-width:1.9" d="M625.6,1026.9 Q621.5,1024.3 618.2,1028.6"/>
<path class="l" style="stroke-width:1.9" d="M625.3,1006.4 Q623.0,998.9 619.8,998.6"/>
<path class="l" style="stroke-width:1.9" d="M632.0,976.8 Q631.5,969.8 630.1,965.4"/>
<path class="l" style="stroke-width:1.9" d="M639.2,959.7 Q638.9,953.8 639.3,947.1"/>
<path class="l" style="stroke-width:1.9" d="M656.7,931.5 Q660.1,922.6 656.3,922.5"/>
<path class="l" style="stroke-width:1.9" d="M673.7,913.0 Q676.8,906.1 679.4,899.8"/>
<path class="l" style="stroke-width:1.9" d="M692.2,899.3 Q698.9,891.8 700.2,887.1"/>
<path class="l" style="stroke-width:1.9" d="M709.4,892.0 Q716.6,886.3 719.8,881.5"/>
<path class="l" style="stroke-width:1.9" d="M728.4,890.8 Q734.8,887.3 738.4,883.3"/>
<ellipse class="w" cx="692.0" cy="977.0" rx="40.4" ry="70.0" transform="rotate(30 692.0 977.0)" style="stroke-width:2"/>
<clipPath id="tclip"><ellipse cx="692.0" cy="977.0" rx="40.1" ry="69.5" transform="rotate(30 692.0 977.0)"/></clipPath>
<g clip-path="url(#tclip)">
<path d="M725.7,918.1 L701.9,904.4" fill="none" stroke="#000" stroke-width="3.1" stroke-linecap="round"/>
<path d="M697.5,901.9 L672.9,887.6" fill="none" stroke="#000" stroke-width="3.1" stroke-linecap="round"/>
<path d="M730.6,923.1 L706.8,909.4" fill="none" stroke="#000" stroke-width="3.1" stroke-linecap="round"/>
<path d="M702.5,906.9 L677.8,892.6" fill="none" stroke="#000" stroke-width="3.1" stroke-linecap="round"/>
<path d="M734.3,929.7 L710.5,915.9" fill="none" stroke="#000" stroke-width="3.1" stroke-linecap="round"/>
<path d="M706.1,913.4 L681.5,899.2" fill="none" stroke="#000" stroke-width="3.1" stroke-linecap="round"/>
<path d="M736.6,937.6 L712.8,923.9" fill="none" stroke="#000" stroke-width="3.1" stroke-linecap="round"/>
<path d="M708.4,921.4 L683.8,907.1" fill="none" stroke="#000" stroke-width="3.1" stroke-linecap="round"/>
<path d="M737.5,946.8 L713.6,933.0" fill="none" stroke="#000" stroke-width="3.1" stroke-linecap="round"/>
<path d="M709.3,930.5 L684.6,916.3" fill="none" stroke="#000" stroke-width="3.1" stroke-linecap="round"/>
<path d="M736.9,956.8 L713.1,943.0" fill="none" stroke="#000" stroke-width="3.1" stroke-linecap="round"/>
<path d="M708.7,940.5 L684.0,926.3" fill="none" stroke="#000" stroke-width="3.1" stroke-linecap="round"/>
<path d="M734.8,967.3 L711.0,953.6" fill="none" stroke="#000" stroke-width="3.1" stroke-linecap="round"/>
<path d="M706.7,951.1 L682.0,936.8" fill="none" stroke="#000" stroke-width="3.1" stroke-linecap="round"/>
<path d="M731.4,978.1 L707.6,964.4" fill="none" stroke="#000" stroke-width="3.1" stroke-linecap="round"/>
<path d="M703.3,961.9 L678.6,947.6" fill="none" stroke="#000" stroke-width="3.1" stroke-linecap="round"/>
<path d="M726.7,988.9 L702.9,975.1" fill="none" stroke="#000" stroke-width="3.1" stroke-linecap="round"/>
<path d="M698.6,972.6 L673.9,958.4" fill="none" stroke="#000" stroke-width="3.1" stroke-linecap="round"/>
<path d="M720.9,999.2 L697.1,985.4" fill="none" stroke="#000" stroke-width="3.1" stroke-linecap="round"/>
<path d="M692.8,982.9 L668.1,968.7" fill="none" stroke="#000" stroke-width="3.1" stroke-linecap="round"/>
<path d="M714.1,1008.8 L690.3,995.0" fill="none" stroke="#000" stroke-width="3.1" stroke-linecap="round"/>
<path d="M686.0,992.5 L661.3,978.3" fill="none" stroke="#000" stroke-width="3.1" stroke-linecap="round"/>
<path d="M706.6,1017.4 L682.8,1003.6" fill="none" stroke="#000" stroke-width="3.1" stroke-linecap="round"/>
<path d="M678.5,1001.1 L653.8,986.9" fill="none" stroke="#000" stroke-width="3.1" stroke-linecap="round"/>
<path d="M698.6,1024.7 L674.7,1010.9" fill="none" stroke="#000" stroke-width="3.1" stroke-linecap="round"/>
<path d="M670.4,1008.4 L645.7,994.2" fill="none" stroke="#000" stroke-width="3.1" stroke-linecap="round"/>
<path d="M690.2,1030.5 L666.4,1016.8" fill="none" stroke="#000" stroke-width="3.1" stroke-linecap="round"/>
<path d="M662.1,1014.3 L637.4,1000.0" fill="none" stroke="#000" stroke-width="3.1" stroke-linecap="round"/>
<path d="M681.9,1034.7 L658.1,1020.9" fill="none" stroke="#000" stroke-width="3.1" stroke-linecap="round"/>
<path d="M653.7,1018.4 L629.0,1004.2" fill="none" stroke="#000" stroke-width="3.1" stroke-linecap="round"/>
<path d="M673.7,1037.0 L649.9,1023.3" fill="none" stroke="#000" stroke-width="3.1" stroke-linecap="round"/>
<path d="M645.6,1020.8 L620.9,1006.5" fill="none" stroke="#000" stroke-width="3.1" stroke-linecap="round"/>
<path d="M666.1,1037.5 L642.3,1023.8" fill="none" stroke="#000" stroke-width="3.1" stroke-linecap="round"/>
<path d="M637.9,1021.3 L613.3,1007.0" fill="none" stroke="#000" stroke-width="3.1" stroke-linecap="round"/>
<path d="M659.1,1036.1 L635.3,1022.4" fill="none" stroke="#000" stroke-width="3.1" stroke-linecap="round"/>
<path d="M631.0,1019.9 L606.3,1005.6" fill="none" stroke="#000" stroke-width="3.1" stroke-linecap="round"/>
<path class="l" d="M691.0,899.1 L693.7,899.9 L696.2,901.0 L698.6,902.3 L700.8,904.0 L702.8,905.9 L704.6,908.1 L706.3,910.6 L707.7,913.2 L708.9,916.2 L709.9,919.3 L710.6,922.6 L711.1,926.2 L711.4,929.9 L711.5,933.7 L711.3,937.7 L710.9,941.8 L710.3,945.9 L709.4,950.2 L708.3,954.5 L707.0,958.8 L705.5,963.1 L703.7,967.4 L701.8,971.7 L699.7,976.0 L697.4,980.1 L694.9,984.2 L692.3,988.1 L689.6,991.9 L686.7,995.6 L683.7,999.1 L680.6,1002.4 L677.5,1005.5 L674.2,1008.3 L670.9,1011.0 L667.6,1013.4 L664.2,1015.5 L660.9,1017.4 L657.5,1019.0 L654.2,1020.3 L651.0,1021.3 L647.8,1022.0 L644.6,1022.4 L641.6,1022.6 L638.7,1022.4 L635.8,1021.9 L633.2,1021.1 L630.6,1020.0 L628.3,1018.7 L626.1,1017.0 L624.0,1015.1" style="stroke-width:1.6"/>
<ellipse class="w" cx="634.0" cy="943.5" rx="38.7" ry="67.0" transform="rotate(30 634.0 943.5)" style="stroke-width:1.8"/>
</g>
<path class="w" style="stroke-width:1.6" d="M615.0,964.0 l5,-4 l6,1 l2,6 l-5,5 l-6,-1 z"/>
<ellipse class="l" cx="622.0" cy="965.0" rx="2.5" ry="3.5" transform="rotate(30 622.0 965.0)"/>
<path class="w" style="stroke-width:1.6" d="M679.0,884.0 l5,-4 l6,1 l2,6 l-5,5 l-6,-1 z"/>
<ellipse class="l" cx="686.0" cy="885.0" rx="2.5" ry="3.5" transform="rotate(30 686.0 885.0)"/>
<path class="t" d="M667,965.5 L698,983 M703,986 L708,989 M713,992 L750,1013"/>
<!-- END: TIRE -->
<!-- SECTION: HUB -->
<path class="w" d="M761.9,1097.1 L759.6,1095.5 L757.5,1093.7 L755.6,1091.7 L753.8,1089.3 L752.3,1086.7 L751.0,1083.9 L749.9,1080.8 L749.0,1077.6 L748.4,1074.1 L747.9,1070.5 L747.8,1066.7 L747.8,1062.8 L748.1,1058.7 L748.7,1054.5 L749.4,1050.3 L750.4,1046.0 L751.6,1041.6 L753.0,1037.3 L754.7,1032.9 L756.5,1028.6 L758.6,1024.3 L760.8,1020.1 L763.2,1015.9 L765.7,1011.9 L768.4,1008.0 L771.3,1004.2 L774.2,1000.6 L777.3,997.2 L780.4,994.0 L783.7,991.0 L787.0,988.2 L790.3,985.7 L793.7,983.4 L797.0,981.4 L800.4,979.6 L803.8,978.1 L807.1,977.0 L810.4,976.1 L813.5,975.5 L816.7,975.2 L819.7,975.3 L822.6,975.6 L825.3,976.3 L828.0,977.2 L830.4,978.4 L889.8,1012.7 L892.1,1014.2 L894.2,1016.0 L896.1,1018.1 L897.9,1020.4 L899.4,1023.0 L900.7,1025.8 L901.8,1028.9 L902.7,1032.2 L903.3,1035.6 L903.7,1039.3 L903.9,1043.1 L903.9,1047.0 L903.6,1051.1 L903.0,1055.2 L902.3,1059.5 L901.3,1063.8 L900.1,1068.1 L898.6,1072.5 L897.0,1076.8 L895.2,1081.2 L893.1,1085.5 L890.9,1089.7 L888.5,1093.8 L886.0,1097.9 L883.3,1101.8 L880.4,1105.5 L877.5,1109.1 L874.4,1112.5 L871.2,1115.8 L868.0,1118.8 L864.7,1121.6 L861.4,1124.1 L858.0,1126.4 L854.6,1128.4 L851.3,1130.1 L847.9,1131.6 L844.6,1132.8 L841.3,1133.7 L838.1,1134.2 L835.0,1134.5 L832.0,1134.5 L829.1,1134.1 L826.3,1133.5 L823.7,1132.6 L821.2,1131.3 Z" style="stroke-width:2.2"/>
<path d="M813.8,1126.0 L791.3,1113.0" fill="none" stroke="#000" stroke-width="3" stroke-linecap="round"/>
<path d="M785.2,1109.5 L761.4,1095.8" fill="none" stroke="#000" stroke-width="3" stroke-linecap="round"/>
<path d="M809.5,1121.3 L787.0,1108.3" fill="none" stroke="#000" stroke-width="3" stroke-linecap="round"/>
<path d="M781.0,1104.8 L757.1,1091.1" fill="none" stroke="#000" stroke-width="3" stroke-linecap="round"/>
<path d="M806.3,1115.3 L783.8,1102.3" fill="none" stroke="#000" stroke-width="3" stroke-linecap="round"/>
<path d="M777.7,1098.8 L753.9,1085.1" fill="none" stroke="#000" stroke-width="3" stroke-linecap="round"/>
<path d="M804.1,1108.2 L781.6,1095.2" fill="none" stroke="#000" stroke-width="3" stroke-linecap="round"/>
<path d="M775.6,1091.7 L751.8,1078.0" fill="none" stroke="#000" stroke-width="3" stroke-linecap="round"/>
<path d="M803.2,1100.1 L780.7,1087.1" fill="none" stroke="#000" stroke-width="3" stroke-linecap="round"/>
<path d="M774.6,1083.6 L750.8,1069.9" fill="none" stroke="#000" stroke-width="3" stroke-linecap="round"/>
<path d="M803.4,1091.3 L780.9,1078.3" fill="none" stroke="#000" stroke-width="3" stroke-linecap="round"/>
<path d="M774.8,1074.8 L751.0,1061.1" fill="none" stroke="#000" stroke-width="3" stroke-linecap="round"/>
<path d="M804.7,1082.0 L782.2,1069.0" fill="none" stroke="#000" stroke-width="3" stroke-linecap="round"/>
<path d="M776.2,1065.5 L752.4,1051.7" fill="none" stroke="#000" stroke-width="3" stroke-linecap="round"/>
<path d="M807.3,1072.3 L784.7,1059.3" fill="none" stroke="#000" stroke-width="3" stroke-linecap="round"/>
<path d="M778.7,1055.8 L754.9,1042.0" fill="none" stroke="#000" stroke-width="3" stroke-linecap="round"/>
<path d="M810.9,1062.6 L788.3,1049.6" fill="none" stroke="#000" stroke-width="3" stroke-linecap="round"/>
<path d="M782.3,1046.1 L758.5,1032.3" fill="none" stroke="#000" stroke-width="3" stroke-linecap="round"/>
<path d="M815.5,1053.0 L792.9,1040.0" fill="none" stroke="#000" stroke-width="3" stroke-linecap="round"/>
<path d="M786.9,1036.5 L763.1,1022.7" fill="none" stroke="#000" stroke-width="3" stroke-linecap="round"/>
<path d="M820.9,1043.8 L798.4,1030.8" fill="none" stroke="#000" stroke-width="3" stroke-linecap="round"/>
<path d="M792.4,1027.3 L768.5,1013.6" fill="none" stroke="#000" stroke-width="3" stroke-linecap="round"/>
<path d="M827.1,1035.3 L804.6,1022.3" fill="none" stroke="#000" stroke-width="3" stroke-linecap="round"/>
<path d="M798.6,1018.8 L774.8,1005.1" fill="none" stroke="#000" stroke-width="3" stroke-linecap="round"/>
<path d="M834.0,1027.6 L811.4,1014.6" fill="none" stroke="#000" stroke-width="3" stroke-linecap="round"/>
<path d="M805.4,1011.1 L781.6,997.4" fill="none" stroke="#000" stroke-width="3" stroke-linecap="round"/>
<path d="M841.2,1021.0 L818.7,1008.0" fill="none" stroke="#000" stroke-width="3" stroke-linecap="round"/>
<path d="M812.6,1004.5 L788.8,990.7" fill="none" stroke="#000" stroke-width="3" stroke-linecap="round"/>
<path d="M848.7,1015.5 L826.2,1002.5" fill="none" stroke="#000" stroke-width="3" stroke-linecap="round"/>
<path d="M820.1,999.0 L796.3,985.3" fill="none" stroke="#000" stroke-width="3" stroke-linecap="round"/>
<path d="M856.2,1011.4 L833.7,998.4" fill="none" stroke="#000" stroke-width="3" stroke-linecap="round"/>
<path d="M827.6,994.9 L803.8,981.1" fill="none" stroke="#000" stroke-width="3" stroke-linecap="round"/>
<path d="M863.6,1008.7 L841.1,995.7" fill="none" stroke="#000" stroke-width="3" stroke-linecap="round"/>
<path d="M835.0,992.2 L811.2,978.4" fill="none" stroke="#000" stroke-width="3" stroke-linecap="round"/>
<path d="M870.7,1007.5 L848.2,994.5" fill="none" stroke="#000" stroke-width="3" stroke-linecap="round"/>
<path d="M842.2,991.0 L818.3,977.2" fill="none" stroke="#000" stroke-width="3" stroke-linecap="round"/>
<path d="M877.4,1007.8 L854.8,994.8" fill="none" stroke="#000" stroke-width="3" stroke-linecap="round"/>
<path d="M848.8,991.3 L825.0,977.6" fill="none" stroke="#000" stroke-width="3" stroke-linecap="round"/>
<path d="M883.3,1009.7 L860.8,996.7" fill="none" stroke="#000" stroke-width="3" stroke-linecap="round"/>
<path d="M854.8,993.2 L831.0,979.4" fill="none" stroke="#000" stroke-width="3" stroke-linecap="round"/>
<path class="l" d="M792.7,1114.8 L790.4,1113.3 L788.2,1111.5 L786.3,1109.4 L784.6,1107.1 L783.0,1104.5 L781.7,1101.7 L780.6,1098.6 L779.7,1095.3 L779.1,1091.9 L778.7,1088.2 L778.5,1084.4 L778.6,1080.5 L778.9,1076.4 L779.4,1072.3 L780.2,1068.0 L781.1,1063.7 L782.4,1059.4 L783.8,1055.0 L785.4,1050.7 L787.3,1046.3 L789.3,1042.0 L791.5,1037.8 L793.9,1033.7 L796.5,1029.6 L799.2,1025.7 L802.0,1022.0 L805.0,1018.4 L808.0,1015.0 L811.2,1011.7 L814.4,1008.7 L817.7,1005.9 L821.0,1003.4 L824.4,1001.1 L827.8,999.1 L831.2,997.4 L834.5,995.9 L837.8,994.7 L841.1,993.8 L844.3,993.3 L847.4,993.0 L850.4,993.0 L853.3,993.4 L856.1,994.0 L858.7,994.9 L861.2,996.2" style="stroke-width:1.5"/>
<path class="l" d="M790.1,1113.3 L787.8,1111.8 L785.6,1110.0 L783.7,1107.9 L782.0,1105.6 L780.4,1103.0 L779.1,1100.2 L778.0,1097.1 L777.1,1093.8 L776.5,1090.4 L776.1,1086.7 L775.9,1082.9 L776.0,1079.0 L776.3,1074.9 L776.8,1070.8 L777.6,1066.5 L778.5,1062.2 L779.8,1057.9 L781.2,1053.5 L782.8,1049.2 L784.7,1044.8 L786.7,1040.5 L788.9,1036.3 L791.3,1032.2 L793.9,1028.1 L796.6,1024.2 L799.4,1020.5 L802.4,1016.9 L805.4,1013.5 L808.6,1010.2 L811.8,1007.2 L815.1,1004.4 L818.4,1001.9 L821.8,999.6 L825.2,997.6 L828.6,995.9 L831.9,994.4 L835.2,993.2 L838.5,992.3 L841.7,991.8 L844.8,991.5 L847.8,991.5 L850.7,991.9 L853.5,992.5 L856.1,993.4 L858.6,994.7" style="stroke-width:1.5"/>
<ellipse class="w" cx="855.5" cy="1072.0" rx="39.5" ry="68.5" transform="rotate(30 855.5 1072.0)" style="stroke-width:2.4"/>
<path class="l" d="M813.2,1119.2 L811.9,1116.5 L810.9,1113.5 L810.0,1110.4 L809.4,1107.0 L809.0,1103.5 L808.9,1099.9 L808.9,1096.1 L809.2,1092.2 L809.7,1088.2 L810.4,1084.1 L811.4,1079.9 L812.6,1075.8 L813.9,1071.6 L815.5,1067.4 L817.3,1063.2 L819.3,1059.0 L821.4,1055.0 L823.7,1051.0 L826.2,1047.1 L828.8,1043.3 L831.5,1039.7 L834.3,1036.2 L837.3,1032.9 L840.3,1029.8 L843.4,1026.9 L846.6,1024.3 L849.8,1021.8 L853.1,1019.6 L856.3,1017.7 L859.6,1016.0 L862.8,1014.6 L866.0,1013.4 L869.2,1012.6 L872.2,1012.0" style="stroke-width:1.4"/>
<ellipse cx="885.0" cy="1021.0" rx="1.8" ry="2.8" fill="#fff" stroke="#000" stroke-width="1.6" transform="rotate(30 885.0 1021.0)"/>
<path d="M892.8,1024.5 q-3.2,2 -1.2,5.2" fill="none" stroke="#000" stroke-width="1.8" stroke-linecap="round"/>
<path d="M896.9,1033.7 q-3.2,2 -1.2,5.2" fill="none" stroke="#000" stroke-width="1.8" stroke-linecap="round"/>
<path d="M898.3,1045.3 q-3.2,2 -1.2,5.2" fill="none" stroke="#000" stroke-width="1.8" stroke-linecap="round"/>
<ellipse cx="895.7" cy="1061.2" rx="1.8" ry="2.8" fill="#fff" stroke="#000" stroke-width="1.6" transform="rotate(30 895.7 1061.2)"/>
<path d="M892.8,1072.6 q-3.2,2 -1.2,5.2" fill="none" stroke="#000" stroke-width="1.8" stroke-linecap="round"/>
<path d="M886.1,1086.4 q-3.2,2 -1.2,5.2" fill="none" stroke="#000" stroke-width="1.8" stroke-linecap="round"/>
<path d="M877.5,1099.0 q-3.2,2 -1.2,5.2" fill="none" stroke="#000" stroke-width="1.8" stroke-linecap="round"/>
<ellipse cx="866.3" cy="1112.2" rx="1.8" ry="2.8" fill="#fff" stroke="#000" stroke-width="1.6" transform="rotate(30 866.3 1112.2)"/>
<path d="M856.7,1117.5 q-3.2,2 -1.2,5.2" fill="none" stroke="#000" stroke-width="1.8" stroke-linecap="round"/>
<path d="M845.9,1122.1 q-3.2,2 -1.2,5.2" fill="none" stroke="#000" stroke-width="1.8" stroke-linecap="round"/>
<path d="M835.9,1123.1 q-3.2,2 -1.2,5.2" fill="none" stroke="#000" stroke-width="1.8" stroke-linecap="round"/>
<ellipse cx="826.0" cy="1123.0" rx="1.8" ry="2.8" fill="#fff" stroke="#000" stroke-width="1.6" transform="rotate(30 826.0 1123.0)"/>
<path d="M820.6,1114.3 q-3.2,2 -1.2,5.2" fill="none" stroke="#000" stroke-width="1.8" stroke-linecap="round"/>
<path d="M816.5,1105.1 q-3.2,2 -1.2,5.2" fill="none" stroke="#000" stroke-width="1.8" stroke-linecap="round"/>
<path d="M815.1,1093.5 q-3.2,2 -1.2,5.2" fill="none" stroke="#000" stroke-width="1.8" stroke-linecap="round"/>
<ellipse cx="815.3" cy="1082.8" rx="1.8" ry="2.8" fill="#fff" stroke="#000" stroke-width="1.6" transform="rotate(30 815.3 1082.8)"/>
<path d="M820.6,1066.2 q-3.2,2 -1.2,5.2" fill="none" stroke="#000" stroke-width="1.8" stroke-linecap="round"/>
<path d="M827.3,1052.4 q-3.2,2 -1.2,5.2" fill="none" stroke="#000" stroke-width="1.8" stroke-linecap="round"/>
<path d="M835.9,1039.8 q-3.2,2 -1.2,5.2" fill="none" stroke="#000" stroke-width="1.8" stroke-linecap="round"/>
<ellipse cx="844.7" cy="1031.8" rx="1.8" ry="2.8" fill="#fff" stroke="#000" stroke-width="1.6" transform="rotate(30 844.7 1031.8)"/>
<path d="M856.7,1021.3 q-3.2,2 -1.2,5.2" fill="none" stroke="#000" stroke-width="1.8" stroke-linecap="round"/>
<path d="M867.5,1016.7 q-3.2,2 -1.2,5.2" fill="none" stroke="#000" stroke-width="1.8" stroke-linecap="round"/>
<path d="M877.5,1015.7 q-3.2,2 -1.2,5.2" fill="none" stroke="#000" stroke-width="1.8" stroke-linecap="round"/>
<path class="l" d="M815.0,1110.0 Q811.9,1103.8 812.0,1100.0 Q810.6,1093.8 812.5,1090.0 Q811.6,1083.2 814.0,1078.8 Q813.5,1071.9 816.2,1067.5 Q816.8,1061.5 820.5,1058.0 Q821.1,1052.8 825.0,1050.0 Q826.5,1045.3 831.2,1043.0 Q832.8,1039.0 837.5,1037.5 Q838.4,1034.2 842.5,1033.2 Q843.4,1030.4 847.5,1030.0 Q850.6,1027.3 857.0,1027.0 Q860.0,1024.8 866.2,1025.0 Q871.5,1023.8 880.0,1025.0" style="stroke-width:2"/>
<path class="l" d="M817.5,1060.0 L823.0,1050.0 L830.0,1043.0" style="stroke-width:3.4"/>
<path class="l" d="M815.5,1066.2 L818.0,1060.0" style="stroke-width:2.4"/>
<path d="M841.0,1033.8 q-3,2 -1,5" fill="none" stroke="#000" stroke-width="1.7" stroke-linecap="round"/>
<path d="M848.5,1043.0 q-3,2 -1,5" fill="none" stroke="#000" stroke-width="1.7" stroke-linecap="round"/>
<path d="M857.2,1035.5 q-3,2 -1,5" fill="none" stroke="#000" stroke-width="1.7" stroke-linecap="round"/>
<path d="M861.0,1043.8 q-3,2 -1,5" fill="none" stroke="#000" stroke-width="1.7" stroke-linecap="round"/>
<path d="M867.2,1040.5 q-3,2 -1,5" fill="none" stroke="#000" stroke-width="1.7" stroke-linecap="round"/>
<path d="M838.5,1067.5 q-3,2 -1,5" fill="none" stroke="#000" stroke-width="1.7" stroke-linecap="round"/>
<path d="M842.2,1075.0 q-3,2 -1,5" fill="none" stroke="#000" stroke-width="1.7" stroke-linecap="round"/>
<path d="M848.5,1077.5 q-3,2 -1,5" fill="none" stroke="#000" stroke-width="1.7" stroke-linecap="round"/>
<path d="M827.2,1073.8 q-3,2 -1,5" fill="none" stroke="#000" stroke-width="1.7" stroke-linecap="round"/>
<path d="M826.0,1083.8 q-3,2 -1,5" fill="none" stroke="#000" stroke-width="1.7" stroke-linecap="round"/>
<path d="M831.0,1087.5 q-3,2 -1,5" fill="none" stroke="#000" stroke-width="1.7" stroke-linecap="round"/>
<path d="M817.2,1097.5 q-3,2 -1,5" fill="none" stroke="#000" stroke-width="1.7" stroke-linecap="round"/>
<path d="M818.5,1087.5 q-3,2 -1,5" fill="none" stroke="#000" stroke-width="1.7" stroke-linecap="round"/>
<path d="M871.0,1103.8 q-3,2 -1,5" fill="none" stroke="#000" stroke-width="1.7" stroke-linecap="round"/>
<path d="M891.0,1063.8 q-3,2 -1,5" fill="none" stroke="#000" stroke-width="1.7" stroke-linecap="round"/>
<path d="M894.8,1028.8 q-3,2 -1,5" fill="none" stroke="#000" stroke-width="1.7" stroke-linecap="round"/>
<path d="M891.0,1035.0 q-3,2 -1,5" fill="none" stroke="#000" stroke-width="1.7" stroke-linecap="round"/>
<path class="l" d="M862.5,1055.5 L892.5,1057.5" style="stroke-width:1.7"/><path d="M862.5,1055.5 L867.4,1057.8 L867.6,1053.8 Z" fill="#000"/>
<path class="l" d="M865.0,1035.5 L890.0,1044.0" style="stroke-width:1.7"/><path d="M865.0,1035.5 L869.1,1039.0 L870.4,1035.2 Z" fill="#000"/>
<path class="l" d="M861.2,1031.2 L886.2,1027.5 L892.5,1043.8" style="stroke-width:1.7"/>
<path class="l" d="M845.0,1086.2 L860.0,1110.0" style="stroke-width:1.7"/><path d="M845.0,1086.2 L846.0,1091.5 L849.4,1089.4 Z" fill="#000"/>
<path class="l" d="M835.0,1097.5 L847.5,1118.0" style="stroke-width:1.7"/>
<path class="l" d="M826.2,1098.0 L832.5,1117.5" style="stroke-width:1.7"/>
<path class="l" d="M825.0,1097.5 L830.0,1100.0 L832.5,1096.2 L836.2,1100.0" style="stroke-width:1.6"/>
<path class="l" d="M828.8,1121.5 L840.0,1118.0 L847.5,1120.5 L855.0,1122.5" style="stroke-width:1.7"/>
<path d="M833.8,1058.0 l3.5,-7 l3.5,7 M835.0,1055.5 h4.4" fill="none" stroke="#000" stroke-width="1.4"/>
<rect x="888.5" y="1084.5" width="3.6" height="3.6" fill="#000"/>
<path class="t" d="M830.0,1061.2 L870.0,1083.0 M873.8,1085.0 L877.5,1087.0 M881.2,1089.0 L910.5,1105.0"/>
<path class="t" d="M850.0,1055.0 L870.0,1065.8 M873.8,1067.8 L877.5,1069.8 M881.2,1071.8 L912.5,1089.0"/>
<path class="t" d="M847.5,1086.2 L870.0,1098.5 M873.8,1100.5 L877.5,1102.5 M881.2,1104.5 L915.5,1123.0"/>
<path class="w" d="M920.5,1091.3 L927.5,1095.3 L924.4,1100.7 L917.5,1096.7 Z" style="stroke-width:2"/><path class="w" d="M928.8,1093.0 L938.4,1098.5 L932.6,1108.5 L923.0,1103.0 Z" style="stroke-width:2.2"/><ellipse cx="935.5" cy="1103.5" rx="3.5" ry="6" fill="#fff" stroke="#000" stroke-width="2.2" transform="rotate(30 935.5 1103.5)"/><ellipse cx="935.5" cy="1103.5" rx="2" ry="3.4" fill="#000" transform="rotate(30 935.5 1103.5)"/><path d="M928.8,1093.0 A3.5,6 30 0 0 923.0,1103.0" fill="none" stroke="#000" stroke-width="2"/>
<path class="w" d="M934.5,1099.3 L941.5,1103.3 L938.4,1108.7 L931.5,1104.7 Z" style="stroke-width:2"/><path class="w" d="M942.8,1101.0 L952.4,1106.5 L946.6,1116.5 L937.0,1111.0 Z" style="stroke-width:2.2"/><ellipse cx="949.5" cy="1111.5" rx="3.5" ry="6" fill="#fff" stroke="#000" stroke-width="2.2" transform="rotate(30 949.5 1111.5)"/><ellipse cx="949.5" cy="1111.5" rx="2" ry="3.4" fill="#000" transform="rotate(30 949.5 1111.5)"/><path d="M942.8,1101.0 A3.5,6 30 0 0 937.0,1111.0" fill="none" stroke="#000" stroke-width="2"/>
<path class="w" d="M920.0,1120.8 L927.0,1124.8 L923.9,1130.2 L917.0,1126.2 Z" style="stroke-width:2"/><path class="w" d="M928.3,1122.5 L937.9,1128.0 L932.1,1138.0 L922.5,1132.5 Z" style="stroke-width:2.2"/><ellipse cx="935.0" cy="1133.0" rx="3.5" ry="6" fill="#fff" stroke="#000" stroke-width="2.2" transform="rotate(30 935.0 1133.0)"/><ellipse cx="935.0" cy="1133.0" rx="2" ry="3.4" fill="#000" transform="rotate(30 935.0 1133.0)"/><path d="M928.3,1122.5 A3.5,6 30 0 0 922.5,1132.5" fill="none" stroke="#000" stroke-width="2"/>
<!-- END: HUB -->
<!-- SECTION: AA -->
<defs>
<pattern id="hx" width="8.5" height="8.5" patternUnits="userSpaceOnUse" patternTransform="translate(46.5,1086) rotate(45)"><path d="M0,4.25 H8.5 M4.25,0 V8.5" stroke="#000" stroke-width="1.4" fill="none"/></pattern>
<pattern id="hd" width="4.95" height="4.95" patternUnits="userSpaceOnUse" patternTransform="rotate(-45)"><path d="M0,2.5 H4.95" stroke="#000" stroke-width="1.35" fill="none"/></pattern>
</defs>
<path d="M90,1092 H227 Q231.5,1092 231.5,1096.5 V1179.5 Q231.5,1184 227,1184 H90 Z" fill="#fff"/>
<path d="M90,1092 H227 Q231.5,1092 231.5,1096.5 V1179.5 Q231.5,1184 227,1184 H90 Z" fill="url(#hd)" stroke="#000" stroke-width="2.4"/>
<path d="M43.5,1090.5 H90 V1185 H60 V1159.5 H43.5 Z" fill="#fff"/>
<path d="M43.5,1090.5 H90 V1185 H60 V1159.5 H43.5 Z" fill="url(#hx)" stroke="#000" stroke-width="1.4"/>
<rect x="42" y="1133.2" width="191" height="9.4" fill="#fff"/>
<path d="M132,1090.3 H220.5 M132,1185.7 H220.5" stroke="#000" stroke-width="3" fill="none"/>
<rect x="90.5" y="1122.5" width="5.6" height="6.3" fill="#fff" stroke="#000" stroke-width="1.8"/>
<rect x="90.5" y="1147" width="5.6" height="6.3" fill="#fff" stroke="#000" stroke-width="1.8"/>
<rect x="90" y="1105.5" width="3" height="4.5" fill="#000"/>
<rect x="90" y="1167" width="3" height="4.5" fill="#000"/>
<rect x="61.5" y="1164" width="12" height="10.5" fill="#fff" stroke="#000" stroke-width="1.2"/>
<rect x="61.5" y="1169.5" width="12" height="5" fill="#000"/>
<path d="M231.5,1122 H241.5 L243,1125 V1132.5 H231.5 M231.5,1153.5 H241.5 L243,1150.5 V1143 H231.5" fill="#fff" stroke="#000" stroke-width="1.3"/>
<path d="M232,1125 h9 l-9,7 m0,14 l9,7 " fill="none" stroke="#000" stroke-width="0.9"/>
<path d="M231.5,1112 q-3,4 0,8" fill="none" stroke="#000" stroke-width="1.2"/>
<path d="M22.5,1138 H28 M31,1138 H66 M69,1138 H72 M75,1138 H88 M92,1138 H140 M143,1138 H146 M149,1138 H198 M201,1138 H204 M207,1138 H258" stroke="#444" stroke-width="1.5" fill="none"/>
<!-- END: AA -->
<!-- SECTION: LABELS -->
<polygon class="w" points="77.5,118.8 106.0,69.8 111.5,73.0 83.0,122.0"/><polygon class="w" points="106.5,82.8 160.5,54.3 166.0,57.5 112.0,86.0"/><polygon class="w" points="83.0,122.0 111.5,73.0 112.0,86.0 166.0,57.5 166.0,91.0 112.0,121.0 111.0,137.5"/><text transform="matrix(0.866,-0.5,0,1,116.5,111.5)" font-size="22.5" font-weight="bold" font-style="italic">FWD</text>
<polygon class="w" points="670.5,754.8 699.0,705.8 704.5,709.0 676.0,758.0"/><polygon class="w" points="699.5,718.8 753.5,690.3 759.0,693.5 705.0,722.0"/><polygon class="w" points="676.0,758.0 704.5,709.0 705.0,722.0 759.0,693.5 759.0,727.0 705.0,757.0 704.0,773.5"/><text transform="matrix(0.866,-0.5,0,1,709.5,747.5)" font-size="22.5" font-weight="bold" font-style="italic">FWD</text>
<path class="t" d="M208.2,548.6 L216.6,543.4 L968.2,977.4 L977,992.6"/>
<path class="t" d="M592.5,750 L592.5,760"/>
<rect x="587.5" y="624" width="117.5" height="27" fill="#fff" stroke="#000" stroke-width="2"/>
<text x="594.5" y="643.8" font-size="19" textLength="102.5" lengthAdjust="spacingAndGlyphs">LH SHOWN</text>
<rect x="573" y="699.5" width="39" height="38" fill="#fff" stroke="#000" stroke-width="2.6"/>
<text x="581.8" y="730.5" font-size="33" font-weight="bold" textLength="24" lengthAdjust="spacingAndGlyphs">A</text>
<rect x="117" y="478.5" width="38" height="38" fill="#fff" stroke="#000" stroke-width="2.6"/>
<text x="125" y="509" font-size="33" font-weight="bold" textLength="24" lengthAdjust="spacingAndGlyphs">A</text>
<polygon class="hw" style="stroke-width:2.7" points="140.5,430.5 172.5,430.5 172.5,462 165,454.5 150.5,469 133,452 148,438"/>
<path d="M88,679.5 L46,654.5 L78,636.5" fill="none" stroke="#000" stroke-width="2.6" stroke-linejoin="miter"/>
<polygon class="k" points="87,631.5 60,639 68.5,650.5"/>
<path class="t" d="M78,626 L84,629.3 M89,632 L107.5,642"/>
<text x="53.5" y="720.5" font-size="34" font-weight="bold" textLength="24" lengthAdjust="spacingAndGlyphs">A</text>
<path d="M200,744 L242,768 L268,753" fill="none" stroke="#000" stroke-width="2.6" stroke-linejoin="miter"/>
<polygon class="k" points="282.5,744.5 257,750 265,763"/>
<text x="179" y="794.6" font-size="34" font-weight="bold" textLength="24" lengthAdjust="spacingAndGlyphs">A</text>
<text x="124.5" y="1067" font-size="34" font-weight="bold" textLength="58" lengthAdjust="spacingAndGlyphs">A-A</text>
<text x="660.0" y="198.8" font-size="17.5" text-anchor="middle">1</text>
<path class="t" d="M663.8,203.8 L684.5,238.8"/>
<text x="119.0" y="788.0" font-size="17.5" text-anchor="middle">2</text>
<text x="102.5" y="809.6" font-size="17.5" textLength="33" lengthAdjust="spacing">(22)</text>
<path class="t" d="M161,714 L126,772.5"/>
<text x="223.4" y="951.5" font-size="17.5" text-anchor="middle">3</text>
<text x="203" y="973.4" font-size="17.5" textLength="37.5" lengthAdjust="spacing">( 33)</text>
<path class="t" d="M251,901.4 L230,936.5"/>
<text x="340.4" y="942.5" font-size="17.5" text-anchor="middle">4</text>
<path class="t" d="M366.5,895.4 L348.5,927.5"/>
<text x="438.0" y="909.6" font-size="17.5" text-anchor="middle">5</text>
<path class="t" d="M466,859.6 L446,893.6"/>
<text x="503.0" y="955.0" font-size="17.5" text-anchor="middle">6</text>
<path class="t" d="M527.4,910 L511,939"/>
<text x="558.8" y="1088.0" font-size="17.5" text-anchor="middle">7</text>
<path class="t" d="M581,1047.5 L565,1072.5"/>
<text x="741.0" y="1155.6" font-size="17.5" text-anchor="middle">8</text>
<path class="t" d="M766.6,1110 L748,1140"/>
<text x="895.6" y="1179.0" font-size="17.5" text-anchor="middle">9</text>
<path class="t" d="M918.4,1137 L903.4,1163.4"/>
<!-- END: LABELS -->
</svg>
</body></html>
